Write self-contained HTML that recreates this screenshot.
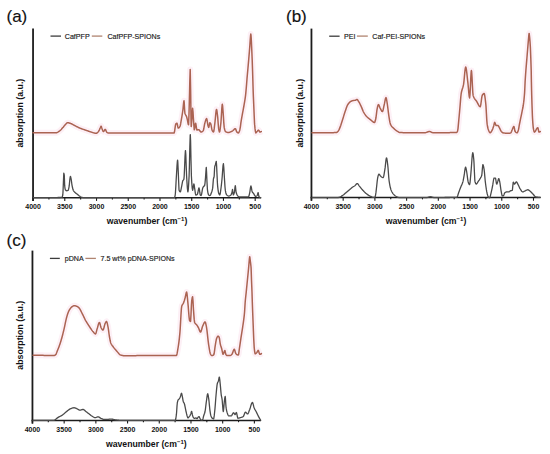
<!DOCTYPE html>
<html><head><meta charset="utf-8"><style>
html,body{margin:0;padding:0;background:#fff;width:550px;height:454px;overflow:hidden}
svg{display:block}
text{font-family:"Liberation Sans",sans-serif;fill:#111}
.tl{font-size:7px;font-weight:bold;text-anchor:middle}
.xl{font-size:8.7px;font-weight:bold;text-anchor:middle}
.yl{font-size:8.8px;font-weight:bold;text-anchor:middle}
.pl{font-size:17px;fill:#111;stroke:#111;stroke-width:0.15px}
.lg{font-size:7.1px;fill:#1a1a1a;stroke:#1a1a1a;stroke-width:0.15px}
.tb{fill:none;stroke:#4a4a4a;stroke-width:1.3;stroke-linejoin:round;stroke-linecap:round}
.halo{fill:none;stroke:#fdf0f6;stroke-width:6;stroke-linejoin:round;stroke-linecap:butt}
.tr{fill:none;stroke:#ab6352;stroke-width:1.5;stroke-linejoin:round;stroke-linecap:round}
</style></head><body>
<svg width="550" height="454" viewBox="0 0 550 454">
<polyline points="33.00,132.80 34.00,132.80 35.00,132.80 36.00,132.80 37.00,132.80 38.00,132.80 39.00,132.80 40.00,132.80 41.00,132.80 42.00,132.80 43.00,132.80 44.00,132.80 45.00,132.80 46.00,132.80 47.00,132.80 48.00,132.80 49.00,132.80 50.00,132.80 51.00,132.80 52.00,132.80 53.00,132.80 54.00,132.80 55.00,132.80 55.90,132.80 56.00,132.80 57.00,132.56 58.00,132.02 59.00,131.34 59.50,131.00 60.00,130.62 61.00,129.66 62.00,128.55 63.00,127.40 64.00,126.16 65.00,124.92 65.40,124.50 66.00,123.89 67.00,122.96 67.70,122.70 68.00,122.71 69.00,122.91 70.00,123.25 70.70,123.50 71.00,123.61 72.00,124.07 73.00,124.61 74.00,125.17 74.80,125.60 75.00,125.70 76.00,126.22 77.00,126.75 78.00,127.26 79.00,127.74 79.60,128.00 80.00,128.16 81.00,128.55 82.00,128.91 83.00,129.26 84.00,129.59 85.00,129.93 85.50,130.10 86.00,130.27 87.00,130.63 88.00,130.98 89.00,131.33 90.00,131.67 91.00,131.98 91.40,132.10 92.00,132.29 93.00,132.62 94.00,132.95 95.00,133.19 96.00,133.30 96.10,133.30 97.00,132.97 98.00,132.06 98.50,131.50 99.00,130.70 100.00,128.43 100.20,128.00 101.00,126.24 101.10,126.20 102.00,128.60 103.00,131.12 103.40,131.50 104.00,131.00 105.00,129.54 105.30,129.40 106.00,130.60 106.70,132.10 107.00,132.36 108.00,133.00 108.50,133.10 109.00,133.10 110.00,133.09 111.00,133.07 112.00,133.04 113.00,133.02 114.00,133.01 115.00,133.00 116.00,133.00 117.00,133.00 118.00,133.00 119.00,133.00 120.00,133.00 121.00,133.00 122.00,133.00 123.00,133.00 124.00,133.00 125.00,133.00 126.00,133.00 127.00,133.00 128.00,133.00 129.00,133.00 130.00,133.00 131.00,133.00 132.00,133.00 133.00,133.00 134.00,133.00 135.00,133.00 136.00,133.00 137.00,133.00 138.00,133.00 139.00,133.00 140.00,133.00 141.00,133.00 142.00,133.00 143.00,133.00 144.00,133.00 145.00,133.00 146.00,133.00 147.00,133.00 148.00,133.00 149.00,133.00 150.00,133.00 151.00,133.00 152.00,133.00 153.00,133.00 154.00,133.00 155.00,133.00 156.00,133.00 157.00,133.00 158.00,133.00 159.00,133.00 160.00,133.00 161.00,133.00 162.00,133.00 163.00,133.00 164.00,133.00 165.00,133.00 166.00,133.00 167.00,133.00 168.00,133.00 169.00,133.00 170.00,133.00 171.00,133.00 172.00,133.00 173.00,133.00 174.00,133.00 174.10,133.00 175.00,128.38 175.80,124.00 176.00,123.77 176.90,123.20 177.00,123.27 178.00,127.52 178.30,128.10 179.00,127.73 179.90,126.50 180.00,126.30 181.00,121.74 181.60,118.20 182.00,115.88 182.90,109.90 183.00,109.09 184.00,100.80 184.90,113.20 185.00,113.53 185.70,114.90 186.00,115.46 186.50,116.50 187.00,118.24 187.40,119.90 188.00,123.19 188.50,124.80 189.00,114.03 189.50,95.00 190.00,73.13 190.20,69.40 190.70,95.00 191.00,118.12 191.20,126.50 192.00,116.50 192.60,108.30 193.00,111.89 193.50,119.90 194.00,127.56 194.30,129.80 195.00,126.12 195.60,123.20 196.00,124.74 196.90,130.00 197.00,130.00 198.00,129.80 198.70,129.70 199.00,129.81 200.00,131.07 201.00,132.00 202.00,131.72 203.00,130.93 203.30,130.60 204.00,127.56 204.70,123.70 205.00,122.61 206.00,119.35 206.60,118.60 207.00,119.72 208.00,125.60 208.70,127.40 209.00,126.56 209.80,122.80 210.00,122.86 210.70,123.70 211.00,124.66 212.00,129.94 212.10,130.20 213.00,131.71 213.50,132.00 214.00,130.16 214.90,122.80 215.00,122.00 216.00,111.72 216.50,109.40 217.00,111.28 217.70,117.20 218.00,120.82 218.60,128.30 219.00,130.60 219.50,132.00 220.00,130.33 220.90,122.80 221.00,121.77 222.00,106.04 222.30,104.30 223.00,110.92 223.20,113.50 224.00,125.68 224.20,127.40 225.00,130.57 225.60,131.60 226.00,131.84 227.00,132.29 228.00,132.49 228.30,132.50 229.00,132.42 230.00,132.08 231.00,131.64 231.10,131.60 232.00,131.16 233.00,130.51 233.40,130.20 234.00,129.49 234.50,129.00 235.00,128.78 235.40,128.70 236.00,129.86 236.80,132.00 237.00,132.18 238.00,132.83 238.40,132.90 239.00,132.20 239.50,131.00 240.00,128.97 240.30,127.30 240.90,122.70 241.00,122.04 242.00,116.24 242.50,113.50 243.00,110.78 244.00,105.37 244.20,104.20 245.00,99.37 245.60,95.00 246.00,91.03 246.40,86.40 247.00,78.81 247.10,77.60 247.90,68.80 248.00,67.68 248.80,58.50 249.00,56.13 249.80,46.20 250.00,43.26 250.30,39.00 250.80,34.10 251.00,35.39 251.20,38.00 251.60,46.20 252.00,55.06 252.20,60.00 252.70,75.00 253.00,85.52 253.20,92.00 253.70,104.00 254.00,111.15 254.10,113.50 254.50,122.70 255.00,128.43 255.10,129.20 255.80,132.90 256.00,132.84 257.00,131.61 257.10,131.50 258.00,130.39 258.50,130.10 259.00,130.65 259.90,132.00 260.00,132.00 261.00,131.76 261.30,131.50" class="halo"/>
<polyline points="312.00,132.70 313.00,132.70 314.00,132.70 315.00,132.70 316.00,132.70 317.00,132.70 318.00,132.70 319.00,132.70 320.00,132.69 321.00,132.69 322.00,132.69 323.00,132.69 324.00,132.69 325.00,132.68 326.00,132.68 327.00,132.67 328.00,132.67 329.00,132.66 330.00,132.66 331.00,132.65 332.00,132.64 333.00,132.63 334.00,132.62 335.00,132.62 336.00,132.60 336.40,132.60 337.00,132.38 338.00,131.36 338.30,131.00 339.00,129.81 340.00,127.40 340.20,126.90 341.00,124.68 342.00,121.53 342.70,119.30 343.00,118.35 344.00,115.06 345.00,111.88 345.30,111.00 346.00,108.97 347.00,106.23 347.80,104.60 348.00,104.29 349.00,102.96 350.00,101.98 350.40,101.70 351.00,101.35 352.00,100.88 352.90,100.60 353.00,100.58 354.00,100.43 355.00,100.30 355.50,100.20 356.00,99.96 357.00,99.50 358.00,100.52 358.60,101.50 359.00,102.14 360.00,104.00 361.00,106.08 361.20,106.50 362.00,108.38 363.00,110.85 363.70,112.30 364.00,112.81 365.00,114.36 366.00,115.68 366.90,116.70 367.00,116.80 368.00,117.76 369.00,118.60 370.00,119.37 370.70,119.90 371.00,120.14 372.00,121.03 373.00,121.88 374.00,122.42 374.50,122.50 375.00,121.72 375.80,118.60 376.00,117.51 377.00,109.63 377.10,109.10 378.00,105.22 378.40,104.60 379.00,105.30 380.00,107.87 380.30,108.50 381.00,109.84 382.00,111.41 382.40,111.60 383.00,110.33 384.00,105.71 384.10,105.30 385.00,100.79 386.00,97.60 387.00,102.08 387.30,104.00 388.00,109.28 388.80,115.50 389.00,116.77 390.00,122.66 390.50,124.40 391.00,125.34 392.00,126.68 393.00,127.64 393.60,128.20 394.00,128.59 395.00,129.52 396.00,130.36 397.00,131.09 397.50,131.40 398.00,131.71 399.00,132.32 400.00,132.60 401.00,132.61 402.00,132.62 403.00,132.63 404.00,132.64 405.00,132.65 406.00,132.65 407.00,132.66 408.00,132.66 409.00,132.67 410.00,132.67 411.00,132.68 412.00,132.68 413.00,132.69 414.00,132.69 415.00,132.69 416.00,132.69 417.00,132.69 418.00,132.70 419.00,132.70 420.00,132.70 421.00,132.70 422.00,132.70 423.00,132.70 424.00,132.70 425.00,132.70 426.00,132.54 427.00,132.18 428.00,131.79 429.00,131.53 429.40,131.50 430.00,131.59 431.00,132.00 432.00,132.47 433.00,132.70 434.00,132.70 435.00,132.70 436.00,132.70 437.00,132.70 438.00,132.70 439.00,132.70 440.00,132.69 441.00,132.69 442.00,132.69 443.00,132.68 444.00,132.68 445.00,132.67 446.00,132.66 447.00,132.65 448.00,132.64 449.00,132.63 450.00,132.62 451.00,132.61 452.00,132.59 453.00,132.58 454.00,132.56 455.00,132.54 456.00,132.51 456.60,132.50 457.00,132.21 457.60,131.00 458.00,128.59 458.80,120.00 459.00,117.95 459.90,108.00 460.00,106.86 461.00,94.99 461.20,93.50 462.00,89.96 463.00,86.85 463.50,84.70 464.00,80.82 465.00,70.45 465.70,67.00 466.00,67.52 467.00,74.59 467.90,82.90 468.00,83.76 469.00,94.71 469.60,97.90 470.00,94.45 471.00,74.05 471.40,70.60 472.00,77.16 473.00,94.65 473.10,95.20 474.00,97.62 475.00,99.23 476.00,100.43 476.70,101.40 477.00,101.91 478.00,103.88 479.00,105.69 480.00,106.67 480.20,106.70 481.00,103.26 482.00,96.19 482.30,95.20 483.00,94.21 484.00,93.51 484.10,93.50 485.00,97.20 485.80,104.00 486.00,106.36 487.00,122.94 487.10,123.80 488.00,128.48 488.50,130.00 489.00,131.19 490.00,132.74 490.20,132.80 491.00,132.18 491.90,130.70 492.00,130.52 493.00,128.03 493.70,125.90 494.00,124.69 494.70,122.40 495.00,122.77 496.00,125.45 496.10,125.50 497.00,125.50 497.80,125.50 498.00,125.56 499.00,127.07 499.50,128.00 500.00,128.96 501.00,130.98 501.30,131.40 502.00,132.15 503.00,132.80 504.00,133.01 505.00,133.15 506.00,133.20 506.10,133.20 507.00,133.20 508.00,133.20 509.00,133.20 509.60,133.20 510.00,133.14 511.00,132.60 512.00,130.30 513.00,127.77 513.90,126.50 514.00,126.59 515.00,131.30 515.10,131.50 516.00,132.41 517.00,132.80 518.00,131.14 518.30,130.30 519.00,126.88 519.50,124.00 520.00,121.54 520.80,117.70 521.00,116.74 522.00,111.90 522.10,111.40 523.00,106.94 523.30,105.10 524.00,99.56 524.60,92.60 525.00,84.00 525.10,82.00 525.90,70.30 526.00,68.99 526.90,58.20 527.00,56.99 527.90,46.10 528.00,44.91 528.60,38.00 529.00,33.72 529.10,33.40 529.70,38.00 530.00,41.47 530.30,46.10 530.80,58.20 531.00,63.53 531.20,70.30 531.40,82.00 531.70,95.00 532.00,105.00 532.50,117.70 533.00,125.28 533.30,128.00 534.00,131.42 534.40,132.10 535.00,131.67 535.50,131.00 536.00,130.00 536.50,129.00 537.00,128.31 537.80,127.70 538.00,128.03 539.00,132.10 540.00,131.83 540.30,131.50" class="halo"/>
<polyline points="33.00,355.20 34.00,355.23 35.00,355.25 36.00,355.27 37.00,355.29 38.00,355.31 39.00,355.33 40.00,355.34 41.00,355.35 42.00,355.36 43.00,355.37 44.00,355.38 45.00,355.38 46.00,355.39 47.00,355.39 48.00,355.39 49.00,355.40 50.00,355.40 51.00,355.40 52.00,355.40 53.00,355.40 54.00,355.40 54.50,355.40 55.00,355.25 55.60,354.80 56.00,354.23 57.00,351.67 57.30,350.90 58.00,349.21 59.00,346.67 59.50,345.30 60.00,343.84 61.00,340.68 62.00,337.22 62.20,336.50 63.00,333.40 64.00,329.19 64.30,327.90 65.00,324.66 66.00,319.92 66.50,317.90 67.00,316.11 68.00,312.94 68.60,311.50 69.00,310.71 70.00,308.97 71.00,307.66 71.50,307.20 72.00,306.81 73.00,306.12 74.00,305.73 74.30,305.70 75.00,305.76 76.00,306.03 77.00,306.42 77.20,306.50 78.00,306.97 79.00,307.88 79.30,308.20 80.00,309.19 81.00,311.12 82.00,313.21 82.20,313.60 83.00,315.20 84.00,317.27 85.00,319.30 85.80,320.80 86.00,321.15 87.00,322.82 88.00,324.39 89.00,325.90 89.40,326.50 90.00,327.41 91.00,328.95 92.00,330.39 92.90,331.50 93.00,331.61 94.00,332.83 95.00,333.75 95.50,333.90 96.00,333.10 97.00,329.26 97.20,328.60 98.00,325.81 99.00,322.86 99.40,322.50 100.00,323.67 101.00,327.44 101.20,327.90 102.00,329.25 103.00,330.10 104.00,327.57 105.00,323.82 105.10,323.60 106.00,321.89 106.50,321.50 107.00,322.32 108.00,326.81 108.10,327.30 109.00,333.76 109.40,336.50 110.00,339.79 110.80,343.00 111.00,343.47 112.00,345.23 113.00,346.56 113.10,346.70 114.00,347.91 115.00,349.14 116.00,350.30 116.90,351.30 117.00,351.41 118.00,352.61 119.00,353.80 120.00,354.70 120.60,355.00 121.00,355.12 122.00,355.38 123.00,355.59 124.00,355.74 125.00,355.80 125.20,355.80 126.00,355.80 127.00,355.79 128.00,355.79 129.00,355.77 130.00,355.76 131.00,355.74 132.00,355.73 133.00,355.71 134.00,355.68 135.00,355.66 136.00,355.64 137.00,355.61 138.00,355.59 139.00,355.57 140.00,355.54 141.00,355.52 142.00,355.50 143.00,355.48 144.00,355.46 145.00,355.44 146.00,355.43 147.00,355.42 148.00,355.41 149.00,355.40 150.00,355.40 151.00,355.40 152.00,355.40 153.00,355.41 154.00,355.41 155.00,355.42 156.00,355.43 157.00,355.43 158.00,355.44 159.00,355.45 160.00,355.46 161.00,355.48 162.00,355.49 163.00,355.50 164.00,355.51 165.00,355.52 166.00,355.53 167.00,355.54 168.00,355.55 169.00,355.56 170.00,355.57 171.00,355.58 172.00,355.59 173.00,355.59 174.00,355.60 175.00,355.60 176.00,355.60 176.30,355.60 177.00,353.92 178.00,348.21 178.20,347.00 179.00,341.36 179.90,332.90 180.00,331.74 181.00,314.44 181.70,306.40 182.00,305.53 183.00,303.84 183.50,302.90 184.00,301.56 185.00,298.30 185.20,297.60 186.00,293.69 186.60,292.00 187.00,293.68 187.90,302.90 188.00,303.88 189.00,316.31 189.60,320.50 190.00,321.08 190.50,321.40 191.00,314.66 191.70,301.10 192.00,298.97 192.60,296.70 193.00,300.98 193.50,310.00 194.00,316.91 194.60,322.30 195.00,323.10 196.00,324.17 196.70,324.90 197.00,325.33 198.00,326.90 198.40,327.60 199.00,329.02 200.00,331.53 200.50,332.00 201.00,331.43 202.00,328.24 202.80,325.80 203.00,325.37 204.00,323.15 205.00,321.91 205.10,321.90 206.00,324.68 206.40,326.70 207.00,330.69 208.00,339.63 208.70,345.00 209.00,346.84 210.00,352.44 210.60,354.30 211.00,354.90 211.90,355.60 212.00,355.60 213.00,355.29 213.80,354.70 214.00,354.22 215.00,347.21 215.20,345.90 216.00,341.06 216.60,338.50 217.00,337.53 218.00,336.20 219.00,336.96 219.10,337.10 220.00,342.37 220.30,344.10 221.00,346.51 221.70,348.70 222.00,350.03 223.00,354.24 223.10,354.30 224.00,352.45 224.90,350.60 225.00,350.71 225.80,354.30 226.00,354.61 227.00,355.57 227.20,355.60 228.00,355.60 229.00,355.60 230.00,355.60 231.00,355.15 231.90,354.30 232.00,354.18 233.00,351.74 234.00,349.39 234.30,349.20 235.00,350.98 235.80,353.60 236.00,353.82 237.00,354.69 237.70,354.90 238.00,354.90 238.40,354.90 239.00,351.70 239.40,348.50 240.00,344.44 240.90,338.30 241.00,337.65 242.00,331.41 242.90,325.50 243.00,324.80 244.00,317.57 244.50,312.80 245.00,304.93 245.20,302.00 246.00,294.19 246.20,292.30 247.00,284.25 247.40,280.20 248.00,274.29 248.60,268.10 249.00,263.23 249.20,261.00 249.70,256.70 250.00,258.26 250.30,261.00 251.00,266.76 251.10,268.10 251.50,280.20 252.00,292.30 252.30,302.00 252.70,312.80 253.00,320.45 253.20,325.50 253.70,338.30 254.00,344.26 254.30,348.50 255.00,353.44 255.20,353.80 256.00,353.38 256.90,352.40 257.00,352.27 258.00,350.50 258.20,350.40 259.00,352.35 259.80,354.30 260.00,354.30 261.00,354.00 261.40,353.60" class="halo"/>
<line x1="33.05" y1="28.6" x2="33.05" y2="200.89999999999998" stroke="#1c1c1c" stroke-width="1.8"/>
<line x1="32.15" y1="197.7" x2="261.2" y2="197.7" stroke="#1c1c1c" stroke-width="1.5"/>
<line x1="33.05" y1="197.7" x2="33.05" y2="200.89999999999998" stroke="#1c1c1c" stroke-width="1.1"/>
<line x1="48.92" y1="197.7" x2="48.92" y2="199.5" stroke="#1c1c1c" stroke-width="1.1"/>
<line x1="64.78" y1="197.7" x2="64.78" y2="200.89999999999998" stroke="#1c1c1c" stroke-width="1.1"/>
<line x1="80.65" y1="197.7" x2="80.65" y2="199.5" stroke="#1c1c1c" stroke-width="1.1"/>
<line x1="96.52" y1="197.7" x2="96.52" y2="200.89999999999998" stroke="#1c1c1c" stroke-width="1.1"/>
<line x1="112.39" y1="197.7" x2="112.39" y2="199.5" stroke="#1c1c1c" stroke-width="1.1"/>
<line x1="128.25" y1="197.7" x2="128.25" y2="200.89999999999998" stroke="#1c1c1c" stroke-width="1.1"/>
<line x1="144.12" y1="197.7" x2="144.12" y2="199.5" stroke="#1c1c1c" stroke-width="1.1"/>
<line x1="159.99" y1="197.7" x2="159.99" y2="200.89999999999998" stroke="#1c1c1c" stroke-width="1.1"/>
<line x1="175.86" y1="197.7" x2="175.86" y2="199.5" stroke="#1c1c1c" stroke-width="1.1"/>
<line x1="191.72" y1="197.7" x2="191.72" y2="200.89999999999998" stroke="#1c1c1c" stroke-width="1.1"/>
<line x1="207.59" y1="197.7" x2="207.59" y2="199.5" stroke="#1c1c1c" stroke-width="1.1"/>
<line x1="223.46" y1="197.7" x2="223.46" y2="200.89999999999998" stroke="#1c1c1c" stroke-width="1.1"/>
<line x1="239.33" y1="197.7" x2="239.33" y2="199.5" stroke="#1c1c1c" stroke-width="1.1"/>
<line x1="255.19" y1="197.7" x2="255.19" y2="200.89999999999998" stroke="#1c1c1c" stroke-width="1.1"/>
<text x="33.05" y="208.8" class="tl">4000</text>
<text x="64.78" y="208.8" class="tl">3500</text>
<text x="96.52" y="208.8" class="tl">3000</text>
<text x="128.25" y="208.8" class="tl">2500</text>
<text x="159.99" y="208.8" class="tl">2000</text>
<text x="191.72" y="208.8" class="tl">1500</text>
<text x="223.46" y="208.8" class="tl">1000</text>
<text x="255.19" y="208.8" class="tl">500</text>
<text x="147" y="224.1" class="xl">wavenumber (cm<tspan dy="-3" font-size="6">&#8722;1</tspan><tspan dy="3">)</tspan></text>
<text transform="translate(23.3,113.15) rotate(-90)" class="yl">absorption (a.u.)</text>
<text x="6.5" y="22" class="pl">(a)</text>
<line x1="50.5" y1="36.1" x2="61" y2="36.1" stroke="#3c3c3c" stroke-width="1.3"/>
<text x="64.8" y="38.5" class="lg">CafPFP</text>
<line x1="91.8" y1="36.1" x2="102.3" y2="36.1" stroke="#b08470" stroke-width="1.3"/>
<text x="107.4" y="38.5" class="lg">CafPFP-SPIONs</text>
<polyline points="33.00,197.65 33.40,197.65 33.80,197.65 34.20,197.65 34.60,197.65 35.00,197.65 35.40,197.65 35.80,197.65 36.20,197.65 36.60,197.65 37.00,197.65 37.40,197.65 37.80,197.65 38.20,197.65 38.60,197.65 39.00,197.65 39.40,197.65 39.80,197.65 40.20,197.65 40.60,197.65 41.00,197.64 41.40,197.64 41.80,197.64 42.20,197.64 42.60,197.64 43.00,197.64 43.40,197.64 43.80,197.64 44.20,197.64 44.60,197.64 45.00,197.63 45.40,197.63 45.80,197.63 46.20,197.63 46.60,197.63 47.00,197.62 47.40,197.62 47.80,197.62 48.20,197.62 48.60,197.62 49.00,197.61 49.40,197.61 49.80,197.61 50.20,197.60 50.60,197.60 51.00,197.60 51.40,197.60 51.80,197.59 52.20,197.59 52.60,197.58 53.00,197.58 53.40,197.58 53.80,197.57 54.20,197.57 54.60,197.56 55.00,197.56 55.40,197.55 55.80,197.55 56.20,197.54 56.60,197.54 57.00,197.53 57.40,197.53 57.80,197.52 58.20,197.52 58.60,197.51 59.00,197.50 59.40,197.50 59.80,197.49 60.20,197.48 60.60,197.47 61.00,197.47 61.40,197.46 61.80,197.45 61.90,197.45 62.20,197.11 62.60,195.76 62.80,194.75 63.00,192.02 63.40,182.35 63.40,182.35 63.80,173.15 63.80,173.15 64.20,174.63 64.30,175.35 64.60,183.89 64.70,185.95 65.00,188.35 65.40,189.85 65.40,189.85 65.80,190.31 66.20,190.61 66.60,190.74 66.70,190.75 67.00,190.73 67.40,190.65 67.80,190.50 68.10,190.35 68.20,190.25 68.60,189.11 69.00,187.12 69.20,185.95 69.40,184.13 69.80,179.75 69.80,179.75 70.20,176.99 70.40,176.45 70.60,176.74 71.00,178.39 71.10,178.85 71.40,180.71 71.80,183.79 72.00,185.05 72.20,186.08 72.60,188.01 73.00,189.57 73.30,190.35 73.40,190.54 73.80,191.17 74.20,191.67 74.60,192.08 75.00,192.46 75.10,192.55 75.40,192.82 75.80,193.15 76.20,193.44 76.60,193.73 77.00,194.02 77.30,194.25 77.40,194.33 77.80,194.66 78.20,195.01 78.60,195.35 79.00,195.68 79.40,195.98 79.50,196.05 79.80,196.26 80.20,196.55 80.60,196.82 81.00,197.04 81.30,197.15 81.40,197.18 81.80,197.29 82.20,197.40 82.60,197.49 83.00,197.56 83.40,197.62 83.80,197.65 84.00,197.65 84.20,197.65 84.60,197.65 85.00,197.65 85.40,197.65 85.80,197.65 86.20,197.65 86.60,197.65 87.00,197.65 87.40,197.65 87.80,197.65 88.20,197.65 88.60,197.65 89.00,197.65 89.40,197.65 89.80,197.65 90.20,197.65 90.60,197.65 91.00,197.65 91.40,197.65 91.80,197.65 92.20,197.65 92.60,197.65 93.00,197.65 93.40,197.65 93.80,197.65 94.20,197.65 94.60,197.65 95.00,197.65 95.40,197.65 95.80,197.65 96.20,197.65 96.60,197.65 97.00,197.65 97.40,197.65 97.80,197.65 98.20,197.65 98.60,197.65 99.00,197.65 99.40,197.65 99.80,197.65 100.20,197.65 100.60,197.65 101.00,197.65 101.40,197.65 101.80,197.65 102.20,197.65 102.60,197.65 103.00,197.65 103.40,197.65 103.80,197.65 104.20,197.65 104.60,197.65 105.00,197.65 105.40,197.65 105.80,197.65 106.20,197.65 106.60,197.65 107.00,197.65 107.40,197.65 107.80,197.65 108.20,197.65 108.60,197.65 109.00,197.65 109.40,197.65 109.80,197.65 110.20,197.65 110.60,197.65 111.00,197.65 111.40,197.65 111.80,197.65 112.20,197.65 112.60,197.65 113.00,197.65 113.40,197.65 113.80,197.65 114.20,197.65 114.60,197.65 115.00,197.65 115.40,197.65 115.80,197.65 116.20,197.65 116.60,197.65 117.00,197.64 117.40,197.64 117.80,197.64 118.20,197.64 118.60,197.64 119.00,197.64 119.40,197.64 119.80,197.64 120.20,197.64 120.60,197.64 121.00,197.64 121.40,197.64 121.80,197.64 122.20,197.64 122.60,197.64 123.00,197.64 123.40,197.64 123.80,197.64 124.20,197.64 124.60,197.64 125.00,197.64 125.40,197.64 125.80,197.64 126.20,197.64 126.60,197.64 127.00,197.64 127.40,197.64 127.80,197.64 128.20,197.64 128.60,197.64 129.00,197.64 129.40,197.64 129.80,197.64 130.20,197.64 130.60,197.64 131.00,197.64 131.40,197.64 131.80,197.63 132.20,197.63 132.60,197.63 133.00,197.63 133.40,197.63 133.80,197.63 134.20,197.63 134.60,197.63 135.00,197.63 135.40,197.63 135.80,197.63 136.20,197.63 136.60,197.63 137.00,197.63 137.40,197.63 137.80,197.63 138.20,197.63 138.60,197.63 139.00,197.63 139.40,197.63 139.80,197.63 140.20,197.63 140.60,197.63 141.00,197.62 141.40,197.62 141.80,197.62 142.20,197.62 142.60,197.62 143.00,197.62 143.40,197.62 143.80,197.62 144.20,197.62 144.60,197.62 145.00,197.62 145.40,197.62 145.80,197.62 146.20,197.62 146.60,197.62 147.00,197.62 147.40,197.62 147.80,197.61 148.20,197.61 148.60,197.61 149.00,197.61 149.40,197.61 149.80,197.61 150.20,197.61 150.60,197.61 151.00,197.61 151.40,197.61 151.80,197.61 152.20,197.61 152.60,197.61 153.00,197.61 153.40,197.60 153.80,197.60 154.20,197.60 154.60,197.60 155.00,197.60 155.40,197.60 155.80,197.60 156.20,197.60 156.60,197.60 157.00,197.60 157.40,197.60 157.80,197.60 158.20,197.59 158.60,197.59 159.00,197.59 159.40,197.59 159.80,197.59 160.20,197.59 160.60,197.59 161.00,197.59 161.40,197.59 161.80,197.59 162.20,197.59 162.60,197.58 163.00,197.58 163.40,197.58 163.80,197.58 164.20,197.58 164.60,197.58 165.00,197.58 165.40,197.58 165.80,197.58 166.20,197.57 166.60,197.57 167.00,197.57 167.40,197.57 167.80,197.57 168.20,197.57 168.60,197.57 169.00,197.57 169.40,197.57 169.80,197.56 170.20,197.56 170.60,197.56 171.00,197.56 171.40,197.56 171.80,197.56 172.20,197.56 172.60,197.56 173.00,197.55 173.40,197.55 173.80,197.55 174.20,197.55 174.50,197.55 174.60,197.48 175.00,196.11 175.20,195.05 175.40,193.27 175.80,186.84 176.20,179.22 176.40,175.95 176.60,172.76 177.00,165.83 177.40,160.83 177.60,160.05 177.80,161.76 178.20,170.59 178.30,172.75 178.60,180.42 179.00,189.51 179.10,190.25 179.40,190.95 179.80,191.57 180.20,191.84 180.30,191.85 180.60,191.35 181.00,189.60 181.40,187.51 181.50,187.05 181.80,185.54 182.20,183.27 182.60,181.35 182.80,180.75 183.00,180.39 183.40,179.95 183.80,179.38 183.90,179.15 184.20,176.00 184.60,166.95 185.00,156.91 185.40,150.86 185.50,150.55 185.80,154.23 186.20,165.70 186.60,175.95 186.60,175.95 187.00,182.63 187.40,188.51 187.80,191.70 187.90,191.85 188.20,190.44 188.60,185.19 189.00,177.87 189.10,175.95 189.40,166.27 189.80,147.86 190.20,135.32 190.30,134.65 190.60,141.11 191.00,160.59 191.40,175.95 191.40,175.95 191.80,182.90 192.20,188.16 192.60,190.25 192.60,190.25 193.00,188.83 193.40,186.03 193.80,184.06 193.90,183.95 194.20,185.03 194.60,188.00 194.70,188.65 195.00,190.75 195.40,193.67 195.80,195.05 195.80,195.05 196.20,194.99 196.60,194.83 197.00,194.58 197.40,194.25 197.40,194.25 197.80,193.05 198.20,190.87 198.60,188.78 199.00,187.85 199.00,187.85 199.40,189.39 199.80,192.47 200.20,194.84 200.30,195.05 200.60,195.33 201.00,195.54 201.10,195.55 201.40,195.01 201.80,193.09 202.20,190.61 202.60,188.49 202.80,187.85 203.00,187.43 203.40,186.75 203.80,186.25 203.90,186.15 204.20,185.95 204.60,185.65 204.60,185.65 205.00,183.27 205.40,178.93 205.50,177.85 205.80,173.34 206.20,167.78 206.30,167.45 206.60,172.82 206.80,177.85 207.00,181.91 207.40,189.06 207.50,190.05 207.80,192.07 208.20,194.03 208.60,194.95 208.60,194.95 209.00,195.25 209.40,195.45 209.80,195.55 209.90,195.55 210.20,195.39 210.60,194.79 211.00,193.87 211.40,192.79 211.60,192.25 211.80,191.70 212.20,190.36 212.60,188.45 212.70,187.85 213.00,184.15 213.40,179.05 213.40,179.05 213.80,177.82 214.10,176.75 214.20,175.70 214.60,167.88 214.70,166.85 215.00,165.71 215.40,164.65 215.40,164.65 215.80,162.86 216.20,161.43 216.30,161.35 216.60,165.45 216.90,172.35 217.00,174.33 217.40,182.69 217.60,185.65 217.80,187.67 218.20,190.98 218.60,193.06 218.70,193.35 219.00,194.02 219.40,194.69 219.80,194.95 219.80,194.95 220.20,193.78 220.60,191.12 220.90,188.95 221.00,188.24 221.40,184.89 221.80,181.03 222.00,179.05 222.20,176.74 222.60,171.01 223.00,165.82 223.40,163.55 223.40,163.55 223.80,167.66 224.20,174.55 224.20,174.55 224.60,180.88 225.00,187.06 225.30,190.05 225.40,190.66 225.80,192.72 226.20,194.08 226.40,194.45 226.60,194.70 227.00,195.14 227.40,195.51 227.80,195.78 228.20,195.97 228.60,196.05 228.70,196.05 229.00,196.03 229.40,195.92 229.80,195.75 230.20,195.51 230.60,195.21 230.90,194.95 231.00,194.84 231.40,194.10 231.80,192.94 232.00,192.25 232.20,191.01 232.50,189.45 232.60,189.69 233.00,193.21 233.30,194.95 233.40,194.92 233.80,194.25 234.20,192.99 234.40,192.25 234.60,190.96 235.00,187.11 235.30,185.65 235.40,185.89 235.80,189.71 236.10,192.25 236.20,192.62 236.60,193.86 237.00,194.77 237.40,195.42 237.50,195.55 237.80,195.93 238.20,196.39 238.60,196.72 239.00,196.85 239.00,196.85 239.40,196.85 239.80,196.85 240.20,196.85 240.60,196.85 241.00,196.85 241.40,196.85 241.80,196.85 242.20,196.85 242.60,196.85 243.00,196.85 243.40,196.85 243.80,196.85 244.20,196.85 244.60,196.85 245.00,196.85 245.40,196.85 245.80,196.85 246.20,196.85 246.60,196.85 247.00,196.85 247.40,196.85 247.80,196.85 248.20,196.85 248.50,196.85 248.60,196.81 249.00,195.88 249.40,194.20 249.80,192.35 249.80,192.35 250.20,189.72 250.60,186.86 250.90,185.95 251.00,186.04 251.40,187.68 251.80,190.17 252.20,191.85 252.20,191.85 252.60,192.43 253.00,192.83 253.40,193.23 253.50,193.35 253.80,193.81 254.20,194.58 254.60,195.36 255.00,196.00 255.40,196.33 255.50,196.35 255.80,196.32 256.20,196.19 256.60,195.96 257.00,195.64 257.30,195.35 257.40,195.15 257.80,193.36 258.10,192.55 258.20,192.69 258.60,194.95 259.00,196.85 259.00,196.85 259.40,197.15 259.80,197.37 260.20,197.51 260.60,197.55" class="tb"/>
<polyline points="33.00,132.80 33.40,132.80 33.80,132.80 34.20,132.80 34.60,132.80 35.00,132.80 35.40,132.80 35.80,132.80 36.20,132.80 36.60,132.80 37.00,132.80 37.40,132.80 37.80,132.80 38.20,132.80 38.60,132.80 39.00,132.80 39.40,132.80 39.80,132.80 40.20,132.80 40.60,132.80 41.00,132.80 41.40,132.80 41.80,132.80 42.20,132.80 42.60,132.80 43.00,132.80 43.40,132.80 43.80,132.80 44.20,132.80 44.60,132.80 45.00,132.80 45.40,132.80 45.80,132.80 46.20,132.80 46.60,132.80 47.00,132.80 47.40,132.80 47.80,132.80 48.20,132.80 48.60,132.80 49.00,132.80 49.40,132.80 49.80,132.80 50.20,132.80 50.60,132.80 51.00,132.80 51.40,132.80 51.80,132.80 52.20,132.80 52.60,132.80 53.00,132.80 53.40,132.80 53.80,132.80 54.20,132.80 54.60,132.80 55.00,132.80 55.40,132.80 55.80,132.80 55.90,132.80 56.20,132.78 56.60,132.70 57.00,132.56 57.40,132.37 57.80,132.14 58.20,131.89 58.60,131.62 59.00,131.34 59.40,131.07 59.50,131.00 59.80,130.78 60.20,130.45 60.60,130.07 61.00,129.66 61.40,129.23 61.80,128.78 62.20,128.31 62.60,127.85 63.00,127.40 63.00,127.40 63.40,126.93 63.80,126.42 64.20,125.90 64.60,125.39 65.00,124.92 65.40,124.50 65.40,124.50 65.80,124.10 66.20,123.68 66.60,123.28 67.00,122.96 67.40,122.75 67.70,122.70 67.80,122.70 68.20,122.74 68.60,122.81 69.00,122.91 69.40,123.04 69.80,123.18 70.20,123.32 70.60,123.47 70.70,123.50 71.00,123.61 71.40,123.78 71.80,123.97 72.20,124.17 72.60,124.38 73.00,124.61 73.40,124.83 73.80,125.06 74.20,125.28 74.60,125.50 74.80,125.60 75.00,125.70 75.40,125.91 75.80,126.12 76.20,126.33 76.60,126.54 77.00,126.75 77.40,126.96 77.80,127.16 78.20,127.36 78.60,127.55 79.00,127.74 79.40,127.92 79.60,128.00 79.80,128.08 80.20,128.24 80.60,128.40 81.00,128.55 81.40,128.70 81.80,128.84 82.20,128.98 82.60,129.12 83.00,129.26 83.40,129.39 83.80,129.52 84.20,129.66 84.60,129.79 85.00,129.93 85.40,130.07 85.50,130.10 85.80,130.20 86.20,130.35 86.60,130.49 87.00,130.63 87.40,130.77 87.80,130.91 88.20,131.05 88.60,131.19 89.00,131.33 89.40,131.47 89.80,131.60 90.20,131.73 90.60,131.86 91.00,131.98 91.40,132.10 91.40,132.10 91.80,132.22 92.20,132.35 92.60,132.49 93.00,132.62 93.40,132.76 93.80,132.89 94.20,133.00 94.60,133.11 95.00,133.19 95.40,133.25 95.80,133.29 96.10,133.30 96.20,133.30 96.60,133.19 97.00,132.97 97.40,132.65 97.80,132.27 98.20,131.84 98.50,131.50 98.60,131.38 99.00,130.70 99.40,129.82 99.80,128.88 100.20,128.00 100.20,128.00 100.60,127.00 101.00,126.24 101.10,126.20 101.40,126.67 101.80,128.01 102.00,128.60 102.20,129.11 102.60,130.20 103.00,131.12 103.40,131.50 103.40,131.50 103.80,131.26 104.20,130.70 104.60,130.05 105.00,129.54 105.30,129.40 105.40,129.43 105.80,130.09 106.20,131.13 106.60,131.98 106.70,132.10 107.00,132.36 107.40,132.67 107.80,132.91 108.20,133.06 108.50,133.10 108.60,133.10 109.00,133.10 109.40,133.09 109.80,133.09 110.20,133.08 110.60,133.08 111.00,133.07 111.40,133.06 111.80,133.05 112.20,133.04 112.60,133.03 113.00,133.02 113.40,133.02 113.80,133.01 114.20,133.00 114.60,133.00 115.00,133.00 115.00,133.00 115.40,133.00 115.80,133.00 116.20,133.00 116.60,133.00 117.00,133.00 117.40,133.00 117.80,133.00 118.20,133.00 118.60,133.00 119.00,133.00 119.40,133.00 119.80,133.00 120.20,133.00 120.60,133.00 121.00,133.00 121.40,133.00 121.80,133.00 122.20,133.00 122.60,133.00 123.00,133.00 123.40,133.00 123.80,133.00 124.20,133.00 124.60,133.00 125.00,133.00 125.40,133.00 125.80,133.00 126.20,133.00 126.60,133.00 127.00,133.00 127.40,133.00 127.80,133.00 128.20,133.00 128.60,133.00 129.00,133.00 129.40,133.00 129.80,133.00 130.20,133.00 130.60,133.00 131.00,133.00 131.40,133.00 131.80,133.00 132.20,133.00 132.60,133.00 133.00,133.00 133.40,133.00 133.80,133.00 134.20,133.00 134.60,133.00 135.00,133.00 135.40,133.00 135.80,133.00 136.20,133.00 136.60,133.00 137.00,133.00 137.40,133.00 137.80,133.00 138.20,133.00 138.60,133.00 139.00,133.00 139.40,133.00 139.80,133.00 140.20,133.00 140.60,133.00 141.00,133.00 141.40,133.00 141.80,133.00 142.20,133.00 142.60,133.00 143.00,133.00 143.40,133.00 143.80,133.00 144.20,133.00 144.60,133.00 145.00,133.00 145.40,133.00 145.80,133.00 146.20,133.00 146.60,133.00 147.00,133.00 147.40,133.00 147.80,133.00 148.20,133.00 148.60,133.00 149.00,133.00 149.40,133.00 149.80,133.00 150.20,133.00 150.60,133.00 151.00,133.00 151.40,133.00 151.80,133.00 152.20,133.00 152.60,133.00 153.00,133.00 153.40,133.00 153.80,133.00 154.20,133.00 154.60,133.00 155.00,133.00 155.40,133.00 155.80,133.00 156.20,133.00 156.60,133.00 157.00,133.00 157.40,133.00 157.80,133.00 158.20,133.00 158.60,133.00 159.00,133.00 159.40,133.00 159.80,133.00 160.20,133.00 160.60,133.00 161.00,133.00 161.40,133.00 161.80,133.00 162.20,133.00 162.60,133.00 163.00,133.00 163.40,133.00 163.80,133.00 164.20,133.00 164.60,133.00 165.00,133.00 165.40,133.00 165.80,133.00 166.20,133.00 166.60,133.00 167.00,133.00 167.40,133.00 167.80,133.00 168.20,133.00 168.60,133.00 169.00,133.00 169.40,133.00 169.80,133.00 170.20,133.00 170.60,133.00 171.00,133.00 171.40,133.00 171.80,133.00 172.20,133.00 172.60,133.00 173.00,133.00 173.40,133.00 173.80,133.00 174.10,133.00 174.20,132.92 174.60,131.25 175.00,128.38 175.40,125.54 175.80,124.00 175.80,124.00 176.20,123.56 176.60,123.27 176.90,123.20 177.00,123.27 177.40,124.63 177.80,126.67 178.20,128.03 178.30,128.10 178.60,128.03 179.00,127.73 179.40,127.26 179.80,126.66 179.90,126.50 180.20,125.72 180.60,123.98 181.00,121.74 181.40,119.35 181.60,118.20 181.80,117.06 182.20,114.64 182.60,112.01 182.90,109.90 183.00,109.09 183.40,104.89 183.80,101.38 184.00,100.80 184.20,102.24 184.60,109.50 184.90,113.20 185.00,113.53 185.40,114.38 185.70,114.90 185.80,115.10 186.20,115.83 186.50,116.50 186.60,116.78 187.00,118.24 187.40,119.90 187.40,119.90 187.80,122.03 188.20,124.15 188.50,124.80 188.60,124.26 189.00,114.03 189.40,98.51 189.50,95.00 189.80,81.69 190.20,69.40 190.20,69.40 190.60,88.72 190.70,95.00 191.00,118.12 191.20,126.50 191.40,125.43 191.80,119.53 192.00,116.50 192.20,113.21 192.60,108.30 192.60,108.30 193.00,111.89 193.40,118.50 193.50,119.90 193.80,124.51 194.20,129.51 194.30,129.80 194.60,128.91 195.00,126.12 195.40,123.62 195.60,123.20 195.80,123.63 196.20,126.21 196.60,129.08 196.90,130.00 197.00,130.00 197.40,129.94 197.80,129.85 198.20,129.76 198.60,129.70 198.70,129.70 199.00,129.81 199.40,130.21 199.80,130.78 200.20,131.36 200.60,131.82 201.00,132.00 201.00,132.00 201.40,131.95 201.80,131.82 202.20,131.60 202.60,131.30 203.00,130.93 203.30,130.60 203.40,130.42 203.80,128.75 204.20,126.31 204.60,124.10 204.70,123.70 205.00,122.61 205.40,121.15 205.80,119.86 206.20,118.95 206.60,118.60 206.60,118.60 207.00,119.72 207.40,122.20 207.80,124.73 208.00,125.60 208.20,126.29 208.60,127.34 208.70,127.40 209.00,126.56 209.40,124.18 209.80,122.80 209.80,122.80 210.20,123.02 210.60,123.54 210.70,123.70 211.00,124.66 211.40,126.87 211.80,129.14 212.10,130.20 212.20,130.40 212.60,131.14 213.00,131.71 213.40,131.99 213.50,132.00 213.80,131.28 214.20,128.69 214.60,125.25 214.90,122.80 215.00,122.00 215.40,117.96 215.80,113.59 216.20,110.30 216.50,109.40 216.60,109.49 217.00,111.28 217.40,114.52 217.70,117.20 217.80,118.20 218.20,123.76 218.60,128.30 218.60,128.30 219.00,130.60 219.40,131.93 219.50,132.00 219.80,131.36 220.20,128.94 220.60,125.51 220.90,122.80 221.00,121.77 221.40,115.59 221.80,108.69 222.20,104.51 222.30,104.30 222.60,105.90 223.00,110.92 223.20,113.50 223.40,116.29 223.80,122.90 224.20,127.40 224.20,127.40 224.60,129.22 225.00,130.57 225.40,131.40 225.60,131.60 225.80,131.73 226.20,131.95 226.60,132.14 227.00,132.29 227.40,132.40 227.80,132.47 228.20,132.50 228.30,132.50 228.60,132.48 229.00,132.42 229.40,132.30 229.80,132.16 230.20,132.00 230.60,131.82 231.00,131.64 231.10,131.60 231.40,131.47 231.80,131.27 232.20,131.04 232.60,130.79 233.00,130.51 233.40,130.20 233.40,130.20 233.80,129.75 234.20,129.25 234.50,129.00 234.60,128.95 235.00,128.78 235.40,128.70 235.40,128.70 235.80,129.28 236.20,130.52 236.60,131.68 236.80,132.00 237.00,132.18 237.40,132.50 237.80,132.74 238.20,132.88 238.40,132.90 238.60,132.81 239.00,132.20 239.40,131.26 239.50,131.00 239.80,129.94 240.20,127.88 240.30,127.30 240.60,125.07 240.90,122.70 241.00,122.04 241.40,119.58 241.80,117.33 242.20,115.15 242.50,113.50 242.60,112.94 243.00,110.78 243.40,108.67 243.80,106.50 244.20,104.20 244.20,104.20 244.60,101.83 245.00,99.37 245.40,96.59 245.60,95.00 245.80,93.15 246.20,88.74 246.40,86.40 246.60,83.95 247.00,78.81 247.10,77.60 247.40,74.23 247.80,69.91 247.90,68.80 248.20,65.42 248.60,60.85 248.80,58.50 249.00,56.13 249.40,51.32 249.80,46.20 249.80,46.20 250.20,40.28 250.30,39.00 250.60,35.26 250.80,34.10 251.00,35.39 251.20,38.00 251.40,41.68 251.60,46.20 251.80,50.54 252.20,60.00 252.20,60.00 252.60,71.82 252.70,75.00 253.00,85.52 253.20,92.00 253.40,97.10 253.70,104.00 253.80,106.39 254.10,113.50 254.20,115.97 254.50,122.70 254.60,124.13 255.00,128.43 255.10,129.20 255.40,131.36 255.80,132.90 255.80,132.90 256.20,132.67 256.60,132.16 257.00,131.61 257.10,131.50 257.40,131.14 257.80,130.62 258.20,130.21 258.50,130.10 258.60,130.13 259.00,130.65 259.40,131.45 259.80,131.97 259.90,132.00 260.20,132.00 260.60,131.94 261.00,131.76 261.30,131.50" class="tr"/>
<line x1="311.45" y1="28.6" x2="311.45" y2="200.75" stroke="#1c1c1c" stroke-width="1.8"/>
<line x1="310.55" y1="197.55" x2="540.6" y2="197.55" stroke="#1c1c1c" stroke-width="1.5"/>
<line x1="311.45" y1="197.55" x2="311.45" y2="200.75" stroke="#1c1c1c" stroke-width="1.1"/>
<line x1="327.31" y1="197.55" x2="327.31" y2="199.35000000000002" stroke="#1c1c1c" stroke-width="1.1"/>
<line x1="343.17" y1="197.55" x2="343.17" y2="200.75" stroke="#1c1c1c" stroke-width="1.1"/>
<line x1="359.03" y1="197.55" x2="359.03" y2="199.35000000000002" stroke="#1c1c1c" stroke-width="1.1"/>
<line x1="374.89" y1="197.55" x2="374.89" y2="200.75" stroke="#1c1c1c" stroke-width="1.1"/>
<line x1="390.75" y1="197.55" x2="390.75" y2="199.35000000000002" stroke="#1c1c1c" stroke-width="1.1"/>
<line x1="406.61" y1="197.55" x2="406.61" y2="200.75" stroke="#1c1c1c" stroke-width="1.1"/>
<line x1="422.47" y1="197.55" x2="422.47" y2="199.35000000000002" stroke="#1c1c1c" stroke-width="1.1"/>
<line x1="438.33" y1="197.55" x2="438.33" y2="200.75" stroke="#1c1c1c" stroke-width="1.1"/>
<line x1="454.19" y1="197.55" x2="454.19" y2="199.35000000000002" stroke="#1c1c1c" stroke-width="1.1"/>
<line x1="470.05" y1="197.55" x2="470.05" y2="200.75" stroke="#1c1c1c" stroke-width="1.1"/>
<line x1="485.91" y1="197.55" x2="485.91" y2="199.35000000000002" stroke="#1c1c1c" stroke-width="1.1"/>
<line x1="501.77" y1="197.55" x2="501.77" y2="200.75" stroke="#1c1c1c" stroke-width="1.1"/>
<line x1="517.63" y1="197.55" x2="517.63" y2="199.35000000000002" stroke="#1c1c1c" stroke-width="1.1"/>
<line x1="533.49" y1="197.55" x2="533.49" y2="200.75" stroke="#1c1c1c" stroke-width="1.1"/>
<text x="311.45" y="208.9" class="tl">4000</text>
<text x="343.17" y="208.9" class="tl">3500</text>
<text x="374.89" y="208.9" class="tl">3000</text>
<text x="406.61" y="208.9" class="tl">2500</text>
<text x="438.33" y="208.9" class="tl">2000</text>
<text x="470.05" y="208.9" class="tl">1500</text>
<text x="501.77" y="208.9" class="tl">1000</text>
<text x="533.49" y="208.9" class="tl">500</text>
<text x="426" y="223.9" class="xl">wavenumber (cm<tspan dy="-3" font-size="6">&#8722;1</tspan><tspan dy="3">)</tspan></text>
<text transform="translate(302.6,113.15) rotate(-90)" class="yl">absorption (a.u.)</text>
<text x="286" y="22" class="pl">(b)</text>
<line x1="329.2" y1="36.2" x2="339.6" y2="36.2" stroke="#3c3c3c" stroke-width="1.3"/>
<text x="344.1" y="38.7" class="lg">PEI</text>
<line x1="356.9" y1="36.1" x2="367.8" y2="36.1" stroke="#b08470" stroke-width="1.3"/>
<text x="372.3" y="38.7" class="lg">Caf-PEI-SPIONs</text>
<polyline points="312.00,197.55 312.40,197.55 312.80,197.55 313.20,197.55 313.60,197.55 314.00,197.55 314.40,197.55 314.80,197.55 315.20,197.55 315.60,197.55 316.00,197.55 316.40,197.55 316.80,197.55 317.20,197.55 317.60,197.55 318.00,197.55 318.40,197.55 318.80,197.55 319.20,197.55 319.60,197.55 320.00,197.55 320.40,197.55 320.80,197.55 321.20,197.55 321.60,197.55 322.00,197.55 322.40,197.55 322.80,197.55 323.20,197.55 323.60,197.55 324.00,197.55 324.40,197.55 324.80,197.55 325.20,197.55 325.60,197.55 326.00,197.55 326.40,197.55 326.80,197.55 327.20,197.55 327.60,197.55 328.00,197.55 328.40,197.55 328.80,197.55 329.20,197.55 329.60,197.55 330.00,197.55 330.40,197.55 330.80,197.55 331.20,197.55 331.60,197.55 332.00,197.55 332.40,197.55 332.80,197.55 333.20,197.55 333.60,197.55 334.00,197.55 334.40,197.55 334.80,197.55 335.20,197.55 335.60,197.55 336.00,197.55 336.40,197.55 336.80,197.55 337.20,197.55 337.60,197.55 338.00,197.55 338.00,197.55 338.40,197.52 338.80,197.44 339.20,197.34 339.50,197.25 339.60,197.22 340.00,197.07 340.40,196.88 340.80,196.66 341.20,196.41 341.60,196.14 342.00,195.86 342.40,195.59 342.60,195.45 342.80,195.31 343.20,195.02 343.60,194.71 344.00,194.39 344.40,194.05 344.80,193.71 345.20,193.36 345.60,193.02 346.00,192.67 346.40,192.33 346.50,192.25 346.80,192.00 347.20,191.67 347.60,191.33 348.00,190.99 348.40,190.65 348.80,190.32 349.20,189.98 349.60,189.64 350.00,189.30 350.30,189.05 350.40,188.97 350.80,188.62 351.20,188.26 351.60,187.91 352.00,187.56 352.40,187.24 352.80,186.95 352.80,186.95 353.20,186.70 353.60,186.48 354.00,186.27 354.40,186.04 354.70,185.85 354.80,185.78 355.20,185.40 355.60,184.95 356.00,184.47 356.40,184.04 356.80,183.72 357.20,183.56 357.30,183.55 357.60,183.66 358.00,184.06 358.40,184.64 358.80,185.28 359.20,185.85 359.20,185.85 359.60,186.34 360.00,186.84 360.40,187.34 360.80,187.85 361.20,188.34 361.60,188.83 362.00,189.30 362.40,189.75 362.40,189.75 362.80,190.19 363.20,190.63 363.60,191.06 364.00,191.49 364.40,191.90 364.80,192.30 365.20,192.68 365.60,193.05 366.00,193.39 366.20,193.55 366.40,193.71 366.80,194.02 367.20,194.32 367.60,194.61 368.00,194.89 368.40,195.15 368.80,195.40 369.20,195.63 369.60,195.85 370.00,196.05 370.00,196.05 370.40,196.24 370.80,196.45 371.20,196.65 371.60,196.84 372.00,197.02 372.40,197.17 372.80,197.30 373.20,197.39 373.60,197.44 373.80,197.45 374.00,197.44 374.40,197.35 374.80,197.17 375.00,197.05 375.20,196.64 375.60,194.79 375.70,194.25 376.00,192.19 376.40,188.57 376.70,185.85 376.80,184.97 377.20,181.17 377.60,178.25 377.60,178.25 378.00,176.42 378.40,174.94 378.80,174.19 378.90,174.15 379.20,174.27 379.60,174.70 380.00,175.30 380.40,175.91 380.80,176.35 380.80,176.35 381.20,176.66 381.60,176.97 382.00,177.25 382.40,177.48 382.80,177.62 383.10,177.65 383.20,177.61 383.60,176.65 384.00,174.77 384.40,172.39 384.80,169.93 384.90,169.35 385.20,167.17 385.60,163.42 386.00,159.91 386.40,157.95 386.50,157.85 386.80,158.47 387.20,160.78 387.60,163.93 387.80,165.55 388.00,167.46 388.40,172.61 388.80,177.88 389.10,180.75 389.20,181.43 389.60,183.92 390.00,186.03 390.40,187.79 390.80,189.18 391.00,189.75 391.20,190.26 391.60,191.18 392.00,191.98 392.40,192.68 392.80,193.29 393.20,193.81 393.50,194.15 393.60,194.26 394.00,194.67 394.40,195.05 394.80,195.41 395.20,195.74 395.60,196.04 396.00,196.31 396.40,196.56 396.80,196.78 397.20,196.97 397.40,197.05 397.60,197.13 398.00,197.29 398.40,197.43 398.80,197.53 399.10,197.55 399.20,197.55 399.60,197.55 400.00,197.55 400.40,197.55 400.80,197.55 401.20,197.55 401.60,197.55 402.00,197.55 402.40,197.55 402.80,197.55 403.20,197.55 403.60,197.55 404.00,197.55 404.40,197.55 404.80,197.55 405.20,197.55 405.60,197.55 406.00,197.55 406.40,197.55 406.80,197.55 407.20,197.55 407.60,197.55 408.00,197.55 408.40,197.55 408.80,197.55 409.20,197.55 409.60,197.55 410.00,197.55 410.40,197.55 410.80,197.55 411.20,197.55 411.60,197.55 412.00,197.55 412.40,197.55 412.80,197.55 413.20,197.55 413.60,197.55 414.00,197.55 414.40,197.55 414.80,197.55 415.20,197.55 415.60,197.55 416.00,197.55 416.40,197.55 416.80,197.55 417.20,197.55 417.60,197.55 418.00,197.55 418.40,197.55 418.80,197.55 419.20,197.55 419.60,197.55 420.00,197.55 420.40,197.55 420.80,197.55 421.20,197.55 421.60,197.55 422.00,197.55 422.40,197.55 422.80,197.55 423.20,197.55 423.60,197.55 424.00,197.55 424.40,197.55 424.80,197.55 425.20,197.55 425.60,197.55 426.00,197.55 426.40,197.55 426.80,197.55 427.00,197.55 427.20,197.54 427.60,197.48 428.00,197.37 428.40,197.24 428.80,197.10 429.20,196.96 429.60,196.84 430.00,196.77 430.30,196.75 430.40,196.75 430.80,196.79 431.20,196.87 431.60,196.98 432.00,197.10 432.40,197.23 432.80,197.35 433.20,197.45 433.60,197.52 434.00,197.55 434.00,197.55 434.40,197.55 434.80,197.55 435.20,197.55 435.60,197.55 436.00,197.55 436.40,197.55 436.80,197.55 437.20,197.55 437.60,197.55 438.00,197.55 438.40,197.55 438.80,197.55 439.20,197.55 439.60,197.54 440.00,197.54 440.40,197.54 440.80,197.54 441.20,197.54 441.60,197.54 442.00,197.54 442.40,197.54 442.80,197.53 443.20,197.53 443.60,197.53 444.00,197.53 444.40,197.53 444.80,197.52 445.20,197.52 445.60,197.52 446.00,197.51 446.40,197.51 446.80,197.51 447.20,197.50 447.60,197.50 448.00,197.50 448.40,197.49 448.80,197.49 449.20,197.48 449.60,197.48 450.00,197.47 450.40,197.47 450.80,197.46 451.20,197.46 451.60,197.45 452.00,197.45 452.40,197.44 452.80,197.43 453.20,197.43 453.60,197.42 454.00,197.41 454.40,197.40 454.80,197.39 455.20,197.39 455.60,197.38 456.00,197.37 456.40,197.36 456.80,197.35 456.80,197.35 457.20,196.97 457.60,196.02 458.00,194.75 458.40,193.43 458.70,192.55 458.80,192.29 459.20,191.20 459.60,190.10 460.00,188.99 460.40,187.91 460.50,187.65 460.80,186.91 461.20,186.00 461.60,185.13 462.00,184.22 462.40,183.20 462.80,181.99 462.90,181.65 463.20,180.41 463.60,178.33 464.00,176.09 464.10,175.55 464.40,173.64 464.80,170.66 465.20,168.12 465.60,167.05 465.60,167.05 466.00,168.11 466.40,170.24 466.50,170.75 466.80,172.50 467.20,175.45 467.60,178.55 468.00,181.21 468.40,182.85 468.40,182.85 468.80,183.73 469.20,184.39 469.60,184.65 469.60,184.65 470.00,182.82 470.40,178.71 470.80,174.35 470.80,174.35 471.20,169.65 471.60,163.94 472.00,158.40 472.40,154.21 472.80,152.55 472.80,152.55 473.20,154.11 473.60,157.70 473.80,159.75 474.00,162.69 474.40,171.69 474.80,179.81 475.00,181.65 475.20,182.33 475.60,183.39 476.00,183.97 476.20,184.05 476.40,184.00 476.80,183.66 477.20,183.10 477.60,182.44 478.00,181.79 478.10,181.65 478.40,181.23 478.80,180.66 479.20,180.07 479.60,179.45 480.00,178.80 480.40,178.13 480.50,177.95 480.80,177.46 481.20,176.80 481.60,175.86 481.70,175.55 482.00,173.29 482.40,168.35 482.80,164.84 482.90,164.65 483.20,165.08 483.60,166.67 484.00,168.87 484.10,169.45 484.40,171.88 484.80,176.40 485.20,180.78 485.30,181.65 485.60,184.01 486.00,186.99 486.40,189.69 486.80,191.98 487.20,193.75 487.20,193.75 487.60,195.18 488.00,196.39 488.40,197.15 488.50,197.25 488.80,197.46 489.20,197.67 489.60,197.75 489.60,197.75 490.00,197.19 490.40,195.83 490.80,194.10 491.10,192.85 491.20,192.45 491.60,190.70 492.00,188.76 492.40,186.75 492.60,185.75 492.80,184.64 493.20,181.98 493.60,179.50 494.00,178.12 494.10,178.05 494.40,178.05 494.80,178.05 495.20,178.05 495.40,178.05 495.60,178.44 496.00,180.75 496.40,183.33 496.70,184.15 496.80,184.10 497.20,183.25 497.60,181.94 497.70,181.65 498.00,180.57 498.40,179.05 498.70,178.55 498.80,178.60 499.20,179.58 499.60,181.23 499.70,181.65 500.00,183.25 500.40,186.09 500.80,189.03 501.10,190.85 501.20,191.37 501.60,193.59 502.00,195.35 502.30,195.85 502.40,195.85 502.80,195.85 503.20,195.85 503.30,195.85 503.60,195.58 504.00,194.64 504.40,193.55 504.80,192.85 504.80,192.85 505.20,192.55 505.60,192.28 506.00,192.07 506.40,191.92 506.80,191.85 506.90,191.85 507.20,191.85 507.60,191.85 508.00,191.85 508.40,191.85 508.80,191.85 508.90,191.85 509.20,191.77 509.60,191.48 510.00,191.12 510.40,190.85 510.40,190.85 510.80,190.72 511.20,190.63 511.60,190.55 512.00,190.42 512.30,190.25 512.40,189.97 512.80,186.12 513.20,182.37 513.30,182.15 513.60,182.46 514.00,183.40 514.40,184.11 514.50,184.15 514.80,183.98 515.20,183.38 515.60,182.62 516.00,182.02 516.30,181.85 516.40,181.87 516.80,182.20 517.20,182.85 517.60,183.66 518.00,184.47 518.10,184.65 518.40,185.22 518.80,186.08 519.20,186.98 519.60,187.85 520.00,188.59 520.10,188.75 520.40,189.22 520.80,189.87 521.20,190.50 521.60,191.06 522.00,191.51 522.40,191.78 522.70,191.85 522.80,191.85 523.20,191.78 523.60,191.64 524.00,191.45 524.40,191.24 524.80,191.03 525.20,190.85 525.20,190.85 525.60,190.66 526.00,190.44 526.40,190.22 526.80,190.02 527.20,189.85 527.60,189.76 527.80,189.75 528.00,189.77 528.40,189.90 528.80,190.13 529.20,190.42 529.60,190.76 530.00,191.11 530.30,191.35 530.40,191.43 530.80,191.78 531.20,192.17 531.60,192.58 532.00,193.01 532.40,193.44 532.80,193.85 532.80,193.85 533.20,194.29 533.60,194.77 534.00,195.27 534.40,195.76 534.80,196.21 535.20,196.58 535.60,196.84 535.90,196.95 536.00,196.97 536.40,197.05 536.80,197.13 537.20,197.19 537.60,197.25 538.00,197.31 538.40,197.35 538.80,197.39 539.20,197.42 539.60,197.44 540.00,197.45 540.30,197.45" class="tb"/>
<polyline points="312.00,132.70 312.40,132.70 312.80,132.70 313.20,132.70 313.60,132.70 314.00,132.70 314.40,132.70 314.80,132.70 315.20,132.70 315.60,132.70 316.00,132.70 316.40,132.70 316.80,132.70 317.20,132.70 317.60,132.70 318.00,132.70 318.40,132.70 318.80,132.70 319.20,132.70 319.60,132.70 320.00,132.69 320.40,132.69 320.80,132.69 321.20,132.69 321.60,132.69 322.00,132.69 322.40,132.69 322.80,132.69 323.20,132.69 323.60,132.69 324.00,132.69 324.40,132.68 324.80,132.68 325.20,132.68 325.60,132.68 326.00,132.68 326.40,132.68 326.80,132.67 327.20,132.67 327.60,132.67 328.00,132.67 328.40,132.67 328.80,132.66 329.20,132.66 329.60,132.66 330.00,132.66 330.40,132.65 330.80,132.65 331.20,132.65 331.60,132.65 332.00,132.64 332.40,132.64 332.80,132.64 333.20,132.63 333.60,132.63 334.00,132.62 334.40,132.62 334.80,132.62 335.20,132.61 335.60,132.61 336.00,132.60 336.40,132.60 336.40,132.60 336.80,132.49 337.20,132.22 337.60,131.83 338.00,131.36 338.30,131.00 338.40,130.87 338.80,130.21 339.20,129.37 339.60,128.41 340.00,127.40 340.20,126.90 340.40,126.38 340.80,125.27 341.20,124.07 341.60,122.81 342.00,121.53 342.40,120.25 342.70,119.30 342.80,118.99 343.20,117.70 343.60,116.39 344.00,115.06 344.40,113.75 344.80,112.49 345.20,111.29 345.30,111.00 345.60,110.14 346.00,108.97 346.40,107.82 346.80,106.73 347.20,105.76 347.60,104.94 347.80,104.60 348.00,104.29 348.40,103.72 348.80,103.20 349.20,102.74 349.60,102.33 350.00,101.98 350.40,101.70 350.40,101.70 350.80,101.46 351.20,101.24 351.60,101.05 352.00,100.88 352.40,100.74 352.80,100.62 352.90,100.60 353.20,100.54 353.60,100.48 354.00,100.43 354.40,100.38 354.80,100.33 355.20,100.26 355.50,100.20 355.60,100.17 356.00,99.96 356.40,99.71 356.80,99.53 357.00,99.50 357.20,99.55 357.60,99.92 358.00,100.52 358.40,101.19 358.60,101.50 358.80,101.81 359.20,102.48 359.60,103.22 360.00,104.00 360.40,104.82 360.80,105.66 361.20,106.50 361.20,106.50 361.60,107.40 362.00,108.38 362.40,109.39 362.80,110.38 363.20,111.31 363.60,112.12 363.70,112.30 364.00,112.81 364.40,113.46 364.80,114.07 365.20,114.64 365.60,115.18 366.00,115.68 366.40,116.15 366.80,116.59 366.90,116.70 367.20,117.01 367.60,117.40 368.00,117.76 368.40,118.11 368.80,118.44 369.20,118.76 369.60,119.07 370.00,119.37 370.40,119.67 370.70,119.90 370.80,119.98 371.20,120.31 371.60,120.66 372.00,121.03 372.40,121.39 372.80,121.72 373.20,122.02 373.60,122.25 374.00,122.42 374.40,122.50 374.50,122.50 374.80,122.20 375.20,121.07 375.60,119.46 375.80,118.60 376.00,117.51 376.40,114.36 376.80,110.99 377.10,109.10 377.20,108.62 377.60,106.73 378.00,105.22 378.40,104.60 378.40,104.60 378.80,104.93 379.20,105.76 379.60,106.82 380.00,107.87 380.30,108.50 380.40,108.68 380.80,109.44 381.20,110.23 381.60,110.92 382.00,111.41 382.40,111.60 382.40,111.60 382.80,111.00 383.20,109.50 383.60,107.58 384.00,105.71 384.10,105.30 384.40,103.96 384.80,101.85 385.20,99.79 385.60,98.22 386.00,97.60 386.00,97.60 386.40,98.54 386.80,100.76 387.20,103.38 387.30,104.00 387.60,106.04 388.00,109.28 388.40,112.61 388.80,115.50 388.80,115.50 389.20,118.06 389.60,120.54 390.00,122.66 390.40,124.16 390.50,124.40 390.80,124.99 391.20,125.66 391.60,126.21 392.00,126.68 392.40,127.09 392.80,127.46 393.20,127.82 393.60,128.20 393.60,128.20 394.00,128.59 394.40,128.97 394.80,129.34 395.20,129.69 395.60,130.03 396.00,130.36 396.40,130.66 396.80,130.95 397.20,131.22 397.50,131.40 397.60,131.46 398.00,131.71 398.40,131.97 398.80,132.21 399.20,132.41 399.60,132.55 400.00,132.60 400.00,132.60 400.40,132.60 400.80,132.61 401.20,132.61 401.60,132.62 402.00,132.62 402.40,132.62 402.80,132.63 403.20,132.63 403.60,132.63 404.00,132.64 404.40,132.64 404.80,132.64 405.20,132.65 405.60,132.65 406.00,132.65 406.40,132.65 406.80,132.66 407.20,132.66 407.60,132.66 408.00,132.66 408.40,132.67 408.80,132.67 409.20,132.67 409.60,132.67 410.00,132.67 410.40,132.68 410.80,132.68 411.20,132.68 411.60,132.68 412.00,132.68 412.40,132.68 412.80,132.68 413.20,132.69 413.60,132.69 414.00,132.69 414.40,132.69 414.80,132.69 415.20,132.69 415.60,132.69 416.00,132.69 416.40,132.69 416.80,132.69 417.20,132.70 417.60,132.70 418.00,132.70 418.40,132.70 418.80,132.70 419.20,132.70 419.60,132.70 420.00,132.70 420.40,132.70 420.80,132.70 421.20,132.70 421.60,132.70 422.00,132.70 422.40,132.70 422.80,132.70 423.20,132.70 423.60,132.70 424.00,132.70 424.40,132.70 424.80,132.70 425.00,132.70 425.20,132.69 425.60,132.64 426.00,132.54 426.40,132.41 426.80,132.26 427.20,132.10 427.60,131.94 428.00,131.79 428.40,131.66 428.80,131.56 429.20,131.51 429.40,131.50 429.60,131.51 430.00,131.59 430.40,131.73 430.80,131.90 431.20,132.10 431.60,132.30 432.00,132.47 432.40,132.61 432.80,132.69 433.00,132.70 433.20,132.70 433.60,132.70 434.00,132.70 434.40,132.70 434.80,132.70 435.20,132.70 435.60,132.70 436.00,132.70 436.40,132.70 436.80,132.70 437.20,132.70 437.60,132.70 438.00,132.70 438.40,132.70 438.80,132.70 439.20,132.69 439.60,132.69 440.00,132.69 440.40,132.69 440.80,132.69 441.20,132.69 441.60,132.69 442.00,132.69 442.40,132.68 442.80,132.68 443.20,132.68 443.60,132.68 444.00,132.68 444.40,132.67 444.80,132.67 445.20,132.67 445.60,132.67 446.00,132.66 446.40,132.66 446.80,132.66 447.20,132.65 447.60,132.65 448.00,132.64 448.40,132.64 448.80,132.64 449.20,132.63 449.60,132.63 450.00,132.62 450.40,132.62 450.80,132.61 451.20,132.60 451.60,132.60 452.00,132.59 452.40,132.59 452.80,132.58 453.20,132.57 453.60,132.56 454.00,132.56 454.40,132.55 454.80,132.54 455.20,132.53 455.60,132.52 456.00,132.51 456.40,132.50 456.60,132.50 456.80,132.42 457.20,131.89 457.60,131.00 457.60,131.00 458.00,128.59 458.40,124.40 458.80,120.00 458.80,120.00 459.20,115.80 459.60,111.35 459.90,108.00 460.00,106.86 460.40,101.83 460.80,96.98 461.20,93.50 461.20,93.50 461.60,91.46 462.00,89.96 462.40,88.73 462.80,87.53 463.20,86.09 463.50,84.70 463.60,84.12 464.00,80.82 464.40,76.60 464.80,72.33 465.20,68.87 465.60,67.08 465.70,67.00 466.00,67.52 466.40,69.59 466.80,72.76 467.20,76.50 467.60,80.31 467.90,82.90 468.00,83.76 468.40,88.02 468.80,92.65 469.20,96.37 469.60,97.90 469.60,97.90 470.00,94.45 470.40,86.52 470.80,77.68 471.20,71.54 471.40,70.60 471.60,71.47 472.00,77.16 472.40,85.30 472.80,92.48 473.10,95.20 473.20,95.53 473.60,96.69 474.00,97.62 474.40,98.36 474.80,98.97 475.20,99.48 475.60,99.96 476.00,100.43 476.40,100.95 476.70,101.40 476.80,101.56 477.20,102.29 477.60,103.07 478.00,103.88 478.40,104.66 478.80,105.38 479.20,105.98 479.60,106.42 480.00,106.67 480.20,106.70 480.40,106.43 480.80,104.61 481.20,101.76 481.60,98.67 482.00,96.19 482.30,95.20 482.40,95.04 482.80,94.47 483.20,93.99 483.60,93.66 484.00,93.51 484.10,93.50 484.40,93.98 484.80,95.86 485.20,98.75 485.60,102.20 485.80,104.00 486.00,106.36 486.40,113.29 486.80,120.37 487.10,123.80 487.20,124.47 487.60,126.76 488.00,128.48 488.40,129.75 488.50,130.00 488.80,130.73 489.20,131.62 489.60,132.33 490.00,132.74 490.20,132.80 490.40,132.75 490.80,132.43 491.20,131.88 491.60,131.22 491.90,130.70 492.00,130.52 492.40,129.66 492.80,128.61 493.20,127.44 493.60,126.21 493.70,125.90 494.00,124.69 494.40,122.96 494.70,122.40 494.80,122.45 495.20,123.30 495.60,124.60 496.00,125.45 496.10,125.50 496.40,125.50 496.80,125.50 497.20,125.50 497.60,125.50 497.80,125.50 498.00,125.56 498.40,125.99 498.80,126.68 499.20,127.46 499.50,128.00 499.60,128.17 500.00,128.96 500.40,129.81 500.80,130.63 501.20,131.28 501.30,131.40 501.60,131.74 502.00,132.15 502.40,132.50 502.80,132.73 503.00,132.80 503.20,132.85 503.60,132.93 504.00,133.01 504.40,133.07 504.80,133.12 505.20,133.16 505.60,133.19 506.00,133.20 506.10,133.20 506.40,133.20 506.80,133.20 507.20,133.20 507.60,133.20 508.00,133.20 508.40,133.20 508.80,133.20 509.20,133.20 509.60,133.20 509.60,133.20 510.00,133.14 510.40,132.98 510.80,132.74 511.00,132.60 511.20,132.33 511.60,131.35 512.00,130.30 512.00,130.30 512.40,129.33 512.80,128.27 513.20,127.32 513.60,126.67 513.90,126.50 514.00,126.59 514.40,128.23 514.80,130.51 515.10,131.50 515.20,131.62 515.60,132.06 516.00,132.41 516.40,132.65 516.80,132.78 517.00,132.80 517.20,132.71 517.60,132.12 518.00,131.14 518.30,130.30 518.40,129.98 518.80,128.06 519.20,125.68 519.50,124.00 519.60,123.50 520.00,121.54 520.40,119.62 520.80,117.70 520.80,117.70 521.20,115.78 521.60,113.86 522.00,111.90 522.10,111.40 522.40,109.95 522.80,108.01 523.20,105.75 523.30,105.10 523.60,102.96 524.00,99.56 524.40,95.23 524.60,92.60 524.80,88.70 525.10,82.00 525.20,80.30 525.60,74.32 525.90,70.30 526.00,68.99 526.40,64.10 526.80,59.40 526.90,58.20 527.20,54.55 527.60,49.69 527.90,46.10 528.00,44.91 528.40,40.16 528.60,38.00 528.80,35.65 529.10,33.40 529.20,33.60 529.60,36.98 529.70,38.00 530.00,41.47 530.30,46.10 530.40,48.05 530.80,58.20 530.80,58.20 531.20,70.30 531.20,70.30 531.40,82.00 531.60,91.07 531.70,95.00 532.00,105.00 532.00,105.00 532.40,115.72 532.50,117.70 532.80,122.59 533.20,127.29 533.30,128.00 533.60,129.69 534.00,131.42 534.40,132.10 534.40,132.10 534.80,131.89 535.20,131.41 535.50,131.00 535.60,130.85 536.00,130.00 536.40,129.15 536.50,129.00 536.80,128.58 537.20,128.07 537.60,127.75 537.80,127.70 538.00,128.03 538.40,129.90 538.80,131.77 539.00,132.10 539.20,132.10 539.60,132.04 540.00,131.83 540.30,131.50" class="tr"/>
<line x1="32.45" y1="250.6" x2="32.45" y2="423.59999999999997" stroke="#1c1c1c" stroke-width="1.8"/>
<line x1="31.550000000000004" y1="420.4" x2="261.1" y2="420.4" stroke="#1c1c1c" stroke-width="1.5"/>
<line x1="32.45" y1="420.4" x2="32.45" y2="423.59999999999997" stroke="#1c1c1c" stroke-width="1.1"/>
<line x1="48.30" y1="420.4" x2="48.30" y2="422.2" stroke="#1c1c1c" stroke-width="1.1"/>
<line x1="64.16" y1="420.4" x2="64.16" y2="423.59999999999997" stroke="#1c1c1c" stroke-width="1.1"/>
<line x1="80.01" y1="420.4" x2="80.01" y2="422.2" stroke="#1c1c1c" stroke-width="1.1"/>
<line x1="95.86" y1="420.4" x2="95.86" y2="423.59999999999997" stroke="#1c1c1c" stroke-width="1.1"/>
<line x1="111.71" y1="420.4" x2="111.71" y2="422.2" stroke="#1c1c1c" stroke-width="1.1"/>
<line x1="127.56" y1="420.4" x2="127.56" y2="423.59999999999997" stroke="#1c1c1c" stroke-width="1.1"/>
<line x1="143.42" y1="420.4" x2="143.42" y2="422.2" stroke="#1c1c1c" stroke-width="1.1"/>
<line x1="159.27" y1="420.4" x2="159.27" y2="423.59999999999997" stroke="#1c1c1c" stroke-width="1.1"/>
<line x1="175.12" y1="420.4" x2="175.12" y2="422.2" stroke="#1c1c1c" stroke-width="1.1"/>
<line x1="190.97" y1="420.4" x2="190.97" y2="423.59999999999997" stroke="#1c1c1c" stroke-width="1.1"/>
<line x1="206.83" y1="420.4" x2="206.83" y2="422.2" stroke="#1c1c1c" stroke-width="1.1"/>
<line x1="222.68" y1="420.4" x2="222.68" y2="423.59999999999997" stroke="#1c1c1c" stroke-width="1.1"/>
<line x1="238.53" y1="420.4" x2="238.53" y2="422.2" stroke="#1c1c1c" stroke-width="1.1"/>
<line x1="254.38" y1="420.4" x2="254.38" y2="423.59999999999997" stroke="#1c1c1c" stroke-width="1.1"/>
<text x="32.45" y="431.7" class="tl">4000</text>
<text x="64.16" y="431.7" class="tl">3500</text>
<text x="95.86" y="431.7" class="tl">3000</text>
<text x="127.56" y="431.7" class="tl">2500</text>
<text x="159.27" y="431.7" class="tl">2000</text>
<text x="190.97" y="431.7" class="tl">1500</text>
<text x="222.68" y="431.7" class="tl">1000</text>
<text x="254.38" y="431.7" class="tl">500</text>
<text x="146.3" y="446.5" class="xl">wavenumber (cm<tspan dy="-3" font-size="6">&#8722;1</tspan><tspan dy="3">)</tspan></text>
<text transform="translate(23.3,335.2) rotate(-90)" class="yl">absorption (a.u.)</text>
<text x="6.5" y="246.1" class="pl">(c)</text>
<line x1="49.9" y1="258.4" x2="59.8" y2="258.4" stroke="#3c3c3c" stroke-width="1.3"/>
<text x="64.8" y="260.5" class="lg">pDNA</text>
<line x1="85.4" y1="258.4" x2="95.9" y2="258.4" stroke="#b08470" stroke-width="1.3"/>
<text x="100.5" y="260.5" class="lg">7.5 wt% pDNA-SPIONs</text>
<polyline points="33.00,420.35 33.40,420.35 33.80,420.35 34.20,420.35 34.60,420.35 35.00,420.35 35.40,420.35 35.80,420.35 36.20,420.35 36.60,420.35 37.00,420.35 37.40,420.35 37.80,420.35 38.20,420.35 38.60,420.35 39.00,420.35 39.40,420.35 39.80,420.35 40.20,420.35 40.60,420.35 41.00,420.35 41.40,420.35 41.80,420.35 42.20,420.35 42.60,420.35 43.00,420.35 43.40,420.35 43.80,420.35 44.20,420.35 44.60,420.35 45.00,420.35 45.40,420.35 45.80,420.35 46.20,420.35 46.60,420.35 47.00,420.35 47.40,420.35 47.80,420.35 48.20,420.35 48.60,420.35 49.00,420.35 49.40,420.35 49.80,420.35 50.20,420.35 50.60,420.35 51.00,420.35 51.40,420.35 51.80,420.35 52.20,420.35 52.60,420.35 53.00,420.35 53.40,420.35 53.50,420.35 53.80,420.31 54.20,420.17 54.50,420.05 54.60,420.01 55.00,419.79 55.40,419.50 55.80,419.17 56.20,418.82 56.60,418.47 57.00,418.14 57.40,417.85 57.40,417.85 57.80,417.60 58.20,417.36 58.60,417.13 59.00,416.91 59.40,416.70 59.80,416.49 60.20,416.28 60.60,416.07 61.00,415.86 61.40,415.63 61.80,415.40 62.20,415.15 62.50,414.95 62.60,414.88 63.00,414.59 63.40,414.27 63.80,413.94 64.20,413.59 64.60,413.24 65.00,412.88 65.40,412.52 65.80,412.17 66.20,411.83 66.60,411.51 66.80,411.35 67.00,411.20 67.40,410.88 67.80,410.56 68.20,410.23 68.60,409.92 69.00,409.62 69.40,409.34 69.80,409.09 70.20,408.88 70.50,408.75 70.60,408.71 71.00,408.55 71.40,408.39 71.80,408.24 72.20,408.10 72.60,407.98 73.00,407.88 73.40,407.81 73.80,407.76 74.10,407.75 74.20,407.75 74.60,407.80 75.00,407.90 75.40,408.04 75.80,408.21 76.20,408.39 76.60,408.58 77.00,408.75 77.00,408.75 77.40,408.94 77.80,409.18 78.20,409.44 78.60,409.69 79.00,409.91 79.40,410.07 79.80,410.15 79.90,410.15 80.20,410.13 80.60,410.06 81.00,409.96 81.40,409.83 81.80,409.70 82.20,409.58 82.60,409.50 83.00,409.45 83.10,409.45 83.40,409.50 83.80,409.69 84.20,409.98 84.60,410.35 85.00,410.73 85.40,411.11 85.70,411.35 85.80,411.42 86.20,411.72 86.60,412.03 87.00,412.33 87.40,412.64 87.80,412.94 88.20,413.25 88.60,413.55 88.60,413.55 89.00,413.86 89.40,414.18 89.80,414.50 90.20,414.82 90.60,415.13 91.00,415.42 91.40,415.69 91.50,415.75 91.80,415.94 92.20,416.21 92.60,416.49 93.00,416.76 93.40,417.02 93.80,417.24 94.20,417.43 94.60,417.57 95.00,417.64 95.20,417.65 95.40,417.64 95.80,417.56 96.20,417.43 96.60,417.27 97.00,417.11 97.40,416.97 97.80,416.87 98.10,416.85 98.20,416.85 98.60,416.94 99.00,417.11 99.40,417.35 99.80,417.62 100.20,417.90 100.60,418.15 101.00,418.35 101.00,418.35 101.40,418.52 101.80,418.71 102.20,418.89 102.60,419.06 103.00,419.20 103.40,419.30 103.80,419.35 103.90,419.35 104.20,419.35 104.60,419.35 105.00,419.35 105.40,419.35 105.80,419.35 106.20,419.35 106.60,419.35 107.00,419.35 107.40,419.35 107.50,419.35 107.80,419.34 108.20,419.32 108.60,419.29 109.00,419.24 109.40,419.19 109.80,419.15 110.20,419.10 110.60,419.07 111.00,419.05 111.20,419.05 111.40,419.05 111.80,419.09 112.20,419.16 112.60,419.24 113.00,419.34 113.40,419.44 113.80,419.55 114.20,419.64 114.60,419.72 114.80,419.75 115.00,419.78 115.40,419.83 115.80,419.89 116.20,419.94 116.60,420.00 117.00,420.05 117.40,420.10 117.80,420.15 118.20,420.19 118.60,420.23 119.00,420.27 119.40,420.30 119.80,420.32 120.20,420.34 120.60,420.35 120.90,420.35 121.00,420.35 121.40,420.35 121.80,420.35 122.20,420.35 122.60,420.35 123.00,420.35 123.40,420.35 123.80,420.35 124.20,420.35 124.60,420.35 125.00,420.35 125.40,420.35 125.80,420.35 126.20,420.35 126.60,420.35 127.00,420.35 127.40,420.35 127.80,420.35 128.20,420.35 128.60,420.35 129.00,420.35 129.40,420.35 129.80,420.35 130.20,420.35 130.60,420.35 131.00,420.35 131.40,420.35 131.80,420.35 132.20,420.35 132.60,420.35 133.00,420.35 133.40,420.35 133.80,420.35 134.20,420.35 134.60,420.35 135.00,420.35 135.40,420.35 135.80,420.35 136.20,420.35 136.60,420.35 137.00,420.35 137.40,420.35 137.80,420.35 138.20,420.35 138.60,420.35 139.00,420.35 139.40,420.35 139.80,420.35 140.20,420.35 140.60,420.35 141.00,420.35 141.40,420.35 141.80,420.35 142.20,420.35 142.60,420.35 143.00,420.35 143.40,420.35 143.80,420.35 144.20,420.35 144.60,420.35 145.00,420.35 145.40,420.35 145.80,420.35 146.20,420.35 146.60,420.35 147.00,420.35 147.40,420.35 147.80,420.35 148.20,420.35 148.60,420.35 149.00,420.35 149.40,420.35 149.80,420.35 150.20,420.35 150.60,420.35 151.00,420.35 151.40,420.35 151.80,420.35 152.20,420.35 152.60,420.35 153.00,420.35 153.40,420.35 153.80,420.35 154.20,420.35 154.60,420.35 155.00,420.35 155.40,420.35 155.80,420.35 156.20,420.35 156.60,420.35 157.00,420.35 157.40,420.35 157.80,420.35 158.20,420.35 158.60,420.35 159.00,420.35 159.40,420.35 159.80,420.35 160.20,420.35 160.60,420.35 161.00,420.35 161.40,420.35 161.80,420.35 162.20,420.35 162.60,420.35 163.00,420.35 163.40,420.35 163.80,420.35 164.20,420.35 164.60,420.35 165.00,420.35 165.40,420.35 165.80,420.35 166.20,420.35 166.60,420.35 167.00,420.35 167.40,420.35 167.80,420.35 168.20,420.35 168.60,420.35 169.00,420.35 169.40,420.35 169.80,420.35 170.20,420.35 170.60,420.35 171.00,420.35 171.40,420.35 171.80,420.35 172.20,420.35 172.60,420.35 173.00,420.35 173.40,420.35 173.80,420.35 174.20,420.35 174.60,420.35 175.00,420.35 175.30,420.35 175.40,420.28 175.80,418.75 176.20,415.99 176.40,414.45 176.60,412.26 177.00,406.14 177.30,402.95 177.40,402.43 177.80,400.80 178.20,399.85 178.20,399.85 178.60,399.37 179.00,399.06 179.40,398.68 179.50,398.55 179.80,398.01 180.20,397.03 180.60,395.95 180.60,395.95 181.00,394.50 181.40,393.32 181.50,393.25 181.80,393.88 182.20,395.84 182.40,396.85 182.60,397.91 183.00,400.35 183.30,401.65 183.40,401.90 183.80,402.57 184.20,403.22 184.30,403.45 184.60,404.50 185.00,406.39 185.20,407.35 185.40,408.31 185.80,410.33 186.10,411.75 186.20,412.19 186.60,413.96 187.00,415.52 187.20,416.15 187.40,416.75 187.80,417.78 188.00,417.95 188.20,417.88 188.60,417.44 188.90,417.05 189.00,416.93 189.40,416.43 189.80,415.85 190.10,415.35 190.20,415.17 190.60,414.30 190.90,413.55 191.00,413.23 191.40,411.68 191.60,411.35 191.80,411.81 192.20,414.00 192.30,414.45 192.60,415.61 193.00,416.86 193.10,417.05 193.40,417.49 193.80,417.97 194.20,418.27 194.50,418.35 194.60,418.34 195.00,418.22 195.40,418.04 195.80,417.95 195.80,417.95 196.20,418.11 196.60,418.42 197.00,418.64 197.10,418.65 197.40,418.44 197.80,417.77 198.20,417.14 198.30,417.05 198.60,416.84 199.00,416.66 199.10,416.65 199.40,416.97 199.80,417.92 200.00,418.35 200.20,418.74 200.60,419.59 201.00,420.12 201.10,420.15 201.40,420.15 201.80,420.15 202.20,420.15 202.40,420.15 202.60,419.95 203.00,418.68 203.40,416.92 203.70,415.75 203.80,415.44 204.20,414.33 204.60,413.21 205.00,411.75 205.00,411.75 205.40,409.31 205.80,406.02 206.20,402.68 206.40,401.25 206.60,399.84 207.00,396.80 207.40,394.42 207.70,393.75 207.80,393.83 208.20,395.38 208.60,398.05 208.80,399.45 209.00,401.06 209.40,405.23 209.80,409.26 209.90,410.05 210.20,412.18 210.60,414.54 210.80,415.35 211.00,415.97 211.40,417.00 211.80,417.72 212.00,417.95 212.20,418.13 212.60,418.45 213.00,418.69 213.40,418.83 213.60,418.85 213.80,418.47 214.20,415.94 214.60,412.22 214.80,410.35 215.00,408.34 215.40,403.36 215.80,398.05 216.10,394.55 216.20,393.49 216.60,389.16 217.00,385.43 217.30,383.65 217.40,383.29 217.80,382.25 218.20,381.45 218.50,380.65 218.60,380.24 219.00,377.96 219.30,377.05 219.40,377.19 219.80,379.82 220.20,383.90 220.30,384.85 220.60,388.09 221.00,392.76 221.20,394.55 221.40,395.80 221.80,397.73 222.10,399.45 222.20,400.27 222.60,405.19 223.00,410.05 223.30,411.55 223.40,411.34 223.80,407.62 224.20,402.72 224.30,401.85 224.60,399.47 225.00,396.88 225.20,396.45 225.40,397.77 225.80,404.27 226.00,406.75 226.20,408.20 226.60,410.54 227.00,412.15 227.00,412.15 227.40,413.37 227.80,414.46 228.20,415.31 228.60,415.78 228.80,415.85 229.00,415.85 229.40,415.85 229.80,415.85 230.20,415.85 230.60,415.85 231.00,415.85 231.20,415.85 231.40,415.79 231.80,415.37 232.20,414.68 232.60,413.92 233.00,413.23 233.40,412.81 233.60,412.75 233.80,412.84 234.20,413.38 234.60,414.08 235.00,414.53 235.10,414.55 235.40,414.28 235.80,413.43 236.20,412.68 236.40,412.55 236.60,412.83 237.00,414.56 237.40,416.77 237.80,418.18 237.90,418.25 238.20,418.23 238.60,418.17 239.00,418.07 239.40,417.95 239.80,417.81 240.20,417.68 240.30,417.65 240.60,417.56 241.00,417.45 241.40,417.33 241.80,417.20 242.20,417.05 242.60,416.86 243.00,416.64 243.30,416.45 243.40,416.36 243.80,415.63 244.20,414.55 244.60,413.42 245.00,412.52 245.40,412.15 245.40,412.15 245.80,412.31 246.20,412.69 246.60,413.17 247.00,413.62 247.40,413.91 247.60,413.95 247.80,413.87 248.20,413.32 248.60,412.41 249.00,411.35 249.40,410.35 249.40,410.35 249.80,409.29 250.20,408.00 250.60,406.60 251.00,405.22 251.40,404.00 251.80,403.06 252.20,402.52 252.40,402.45 252.60,402.59 253.00,403.56 253.40,405.08 253.80,406.69 254.20,407.95 254.20,407.95 254.60,408.82 255.00,409.57 255.40,410.28 255.80,410.99 256.10,411.55 256.20,411.75 256.60,412.56 257.00,413.39 257.40,414.23 257.80,415.06 258.20,415.87 258.50,416.45 258.60,416.64 259.00,417.38 259.40,418.10 259.80,418.80 260.20,419.49 260.60,420.15" class="tb"/>
<polyline points="33.00,355.20 33.40,355.21 33.80,355.22 34.20,355.23 34.60,355.24 35.00,355.25 35.40,355.26 35.80,355.27 36.20,355.28 36.60,355.28 37.00,355.29 37.40,355.30 37.80,355.31 38.20,355.31 38.60,355.32 39.00,355.33 39.40,355.33 39.80,355.34 40.20,355.34 40.60,355.35 41.00,355.35 41.40,355.35 41.80,355.36 42.20,355.36 42.60,355.37 43.00,355.37 43.40,355.37 43.80,355.38 44.20,355.38 44.60,355.38 45.00,355.38 45.40,355.38 45.80,355.39 46.20,355.39 46.60,355.39 47.00,355.39 47.40,355.39 47.80,355.39 48.20,355.39 48.60,355.40 49.00,355.40 49.40,355.40 49.80,355.40 50.20,355.40 50.60,355.40 51.00,355.40 51.40,355.40 51.80,355.40 52.20,355.40 52.60,355.40 53.00,355.40 53.40,355.40 53.80,355.40 54.20,355.40 54.50,355.40 54.60,355.39 55.00,355.25 55.40,354.97 55.60,354.80 55.80,354.57 56.20,353.80 56.60,352.78 57.00,351.67 57.30,350.90 57.40,350.66 57.80,349.69 58.20,348.72 58.60,347.72 59.00,346.67 59.40,345.58 59.50,345.30 59.80,344.43 60.20,343.23 60.60,341.98 61.00,340.68 61.40,339.33 61.80,337.94 62.20,336.50 62.20,336.50 62.60,334.99 63.00,333.40 63.40,331.75 63.80,330.05 64.20,328.33 64.30,327.90 64.60,326.56 65.00,324.66 65.40,322.72 65.80,320.82 66.20,319.07 66.50,317.90 66.60,317.54 67.00,316.11 67.40,314.76 67.80,313.51 68.20,312.42 68.60,311.50 68.60,311.50 69.00,310.71 69.40,309.97 69.80,309.29 70.20,308.67 70.60,308.13 71.00,307.66 71.40,307.28 71.50,307.20 71.80,306.96 72.20,306.66 72.60,306.37 73.00,306.12 73.40,305.91 73.80,305.77 74.20,305.70 74.30,305.70 74.60,305.71 75.00,305.76 75.40,305.85 75.80,305.96 76.20,306.10 76.60,306.25 77.00,306.42 77.20,306.50 77.40,306.59 77.80,306.83 78.20,307.13 78.60,307.48 79.00,307.88 79.30,308.20 79.40,308.32 79.80,308.87 80.20,309.54 80.60,310.30 81.00,311.12 81.40,311.96 81.80,312.80 82.20,313.60 82.20,313.60 82.60,314.39 83.00,315.20 83.40,316.02 83.80,316.86 84.20,317.69 84.60,318.50 85.00,319.30 85.40,320.07 85.80,320.80 85.80,320.80 86.20,321.49 86.60,322.17 87.00,322.82 87.40,323.46 87.80,324.08 88.20,324.69 88.60,325.30 89.00,325.90 89.40,326.50 89.40,326.50 89.80,327.11 90.20,327.72 90.60,328.34 91.00,328.95 91.40,329.54 91.80,330.11 92.20,330.65 92.60,331.15 92.90,331.50 93.00,331.61 93.40,332.09 93.80,332.59 94.20,333.06 94.60,333.46 95.00,333.75 95.40,333.89 95.50,333.90 95.80,333.59 96.20,332.44 96.60,330.85 97.00,329.26 97.20,328.60 97.40,327.97 97.80,326.55 98.20,325.09 98.60,323.79 99.00,322.86 99.40,322.50 99.40,322.50 99.80,323.06 100.20,324.41 100.60,326.04 101.00,327.44 101.20,327.90 101.40,328.25 101.80,328.93 102.20,329.53 102.60,329.94 103.00,330.10 103.00,330.10 103.40,329.60 103.80,328.36 104.20,326.74 104.60,325.10 105.00,323.82 105.10,323.60 105.40,322.99 105.80,322.20 106.20,321.65 106.50,321.50 106.60,321.54 107.00,322.32 107.40,323.87 107.80,325.80 108.10,327.30 108.20,327.83 108.60,330.59 109.00,333.76 109.40,336.50 109.40,336.50 109.80,338.73 110.20,340.78 110.60,342.41 110.80,343.00 111.00,343.47 111.40,344.28 111.80,344.94 112.20,345.51 112.60,346.04 113.00,346.56 113.10,346.70 113.40,347.11 113.80,347.65 114.20,348.16 114.60,348.66 115.00,349.14 115.40,349.61 115.80,350.08 116.20,350.53 116.60,350.97 116.90,351.30 117.00,351.41 117.40,351.88 117.80,352.36 118.20,352.86 118.60,353.34 119.00,353.80 119.40,354.21 119.80,354.55 120.20,354.83 120.60,355.00 120.60,355.00 121.00,355.12 121.40,355.23 121.80,355.33 122.20,355.43 122.60,355.52 123.00,355.59 123.40,355.66 123.80,355.71 124.20,355.75 124.60,355.78 125.00,355.80 125.20,355.80 125.40,355.80 125.80,355.80 126.20,355.80 126.60,355.80 127.00,355.79 127.40,355.79 127.80,355.79 128.20,355.78 128.60,355.78 129.00,355.77 129.40,355.77 129.80,355.76 130.20,355.76 130.60,355.75 131.00,355.74 131.40,355.74 131.80,355.73 132.20,355.72 132.60,355.71 133.00,355.71 133.40,355.70 133.80,355.69 134.20,355.68 134.60,355.67 135.00,355.66 135.40,355.65 135.80,355.64 136.20,355.63 136.60,355.62 137.00,355.61 137.40,355.60 137.80,355.60 138.20,355.59 138.60,355.58 139.00,355.57 139.40,355.56 139.80,355.55 140.20,355.54 140.60,355.53 141.00,355.52 141.40,355.51 141.80,355.50 142.20,355.49 142.60,355.49 143.00,355.48 143.40,355.47 143.80,355.46 144.20,355.46 144.60,355.45 145.00,355.44 145.40,355.44 145.80,355.43 146.20,355.43 146.60,355.42 147.00,355.42 147.40,355.41 147.80,355.41 148.20,355.41 148.60,355.40 149.00,355.40 149.40,355.40 149.80,355.40 150.00,355.40 150.20,355.40 150.60,355.40 151.00,355.40 151.40,355.40 151.80,355.40 152.20,355.40 152.60,355.41 153.00,355.41 153.40,355.41 153.80,355.41 154.20,355.41 154.60,355.42 155.00,355.42 155.40,355.42 155.80,355.42 156.20,355.43 156.60,355.43 157.00,355.43 157.40,355.44 157.80,355.44 158.20,355.45 158.60,355.45 159.00,355.45 159.40,355.46 159.80,355.46 160.20,355.47 160.60,355.47 161.00,355.48 161.40,355.48 161.80,355.48 162.20,355.49 162.60,355.49 163.00,355.50 163.40,355.50 163.80,355.51 164.20,355.51 164.60,355.52 165.00,355.52 165.40,355.53 165.80,355.53 166.20,355.53 166.60,355.54 167.00,355.54 167.40,355.55 167.80,355.55 168.20,355.55 168.60,355.56 169.00,355.56 169.40,355.57 169.80,355.57 170.20,355.57 170.60,355.58 171.00,355.58 171.40,355.58 171.80,355.58 172.20,355.59 172.60,355.59 173.00,355.59 173.40,355.59 173.80,355.59 174.20,355.60 174.60,355.60 175.00,355.60 175.40,355.60 175.80,355.60 176.20,355.60 176.30,355.60 176.60,355.26 177.00,353.92 177.40,351.87 177.80,349.45 178.20,347.00 178.20,347.00 178.60,344.41 179.00,341.36 179.40,337.87 179.80,333.95 179.90,332.90 180.20,328.88 180.60,321.80 181.00,314.44 181.40,308.64 181.70,306.40 181.80,306.07 182.20,305.08 182.60,304.42 183.00,303.84 183.40,303.13 183.50,302.90 183.80,302.13 184.20,300.96 184.60,299.67 185.00,298.30 185.20,297.60 185.40,296.77 185.80,294.71 186.20,292.82 186.60,292.00 186.60,292.00 187.00,293.68 187.40,297.56 187.80,301.93 187.90,302.90 188.20,306.15 188.60,311.34 189.00,316.31 189.40,319.76 189.60,320.50 189.80,320.82 190.20,321.28 190.50,321.40 190.60,321.06 191.00,314.66 191.40,305.52 191.70,301.10 191.80,300.37 192.20,297.80 192.60,296.70 192.60,296.70 193.00,300.98 193.40,308.53 193.50,310.00 193.80,314.13 194.20,319.39 194.60,322.30 194.60,322.30 195.00,323.10 195.40,323.63 195.80,324.00 196.20,324.34 196.60,324.77 196.70,324.90 197.00,325.33 197.40,325.93 197.80,326.57 198.20,327.25 198.40,327.60 198.60,328.01 199.00,329.02 199.40,330.14 199.80,331.14 200.20,331.82 200.50,332.00 200.60,331.97 201.00,331.43 201.40,330.34 201.80,328.96 202.20,327.53 202.60,326.28 202.80,325.80 203.00,325.37 203.40,324.46 203.80,323.56 204.20,322.78 204.60,322.20 205.00,321.91 205.10,321.90 205.40,322.29 205.80,323.73 206.20,325.70 206.40,326.70 206.60,327.81 207.00,330.69 207.40,334.15 207.80,337.83 208.20,341.35 208.60,344.37 208.70,345.00 209.00,346.84 209.40,349.28 209.80,351.49 210.20,353.24 210.60,354.30 210.60,354.30 211.00,354.90 211.40,355.36 211.80,355.59 211.90,355.60 212.20,355.58 212.60,355.47 213.00,355.29 213.40,355.03 213.80,354.70 213.80,354.70 214.20,353.24 214.60,350.35 215.00,347.21 215.20,345.90 215.40,344.71 215.80,342.23 216.20,340.01 216.60,338.50 216.60,338.50 217.00,337.53 217.40,336.74 217.80,336.27 218.00,336.20 218.20,336.24 218.60,336.50 219.00,336.96 219.10,337.10 219.40,338.20 219.80,340.92 220.20,343.62 220.30,344.10 220.60,345.25 221.00,346.51 221.40,347.70 221.70,348.70 221.80,349.09 222.20,351.08 222.60,353.08 223.00,354.24 223.10,354.30 223.40,354.03 223.80,353.06 224.20,351.84 224.60,350.87 224.90,350.60 225.00,350.71 225.40,352.56 225.80,354.30 225.80,354.30 226.20,354.88 226.60,355.32 227.00,355.57 227.20,355.60 227.40,355.60 227.80,355.60 228.20,355.60 228.60,355.60 229.00,355.60 229.40,355.60 229.80,355.60 230.00,355.60 230.20,355.58 230.60,355.42 231.00,355.15 231.40,354.80 231.80,354.40 231.90,354.30 232.20,353.85 232.60,352.90 233.00,351.74 233.40,350.60 233.80,349.69 234.20,349.22 234.30,349.20 234.60,349.60 235.00,350.98 235.40,352.58 235.80,353.60 235.80,353.60 236.20,354.03 236.60,354.40 237.00,354.69 237.40,354.86 237.70,354.90 237.80,354.90 238.20,354.90 238.40,354.90 238.60,354.44 239.00,351.70 239.40,348.50 239.40,348.50 239.80,345.81 240.20,343.06 240.60,340.31 240.90,338.30 241.00,337.65 241.40,335.11 241.80,332.64 242.20,330.16 242.60,327.57 242.90,325.50 243.00,324.80 243.40,322.05 243.80,319.16 244.20,315.81 244.50,312.80 244.60,311.55 245.00,304.93 245.20,302.00 245.40,299.76 245.80,295.98 246.20,292.30 246.20,292.30 246.60,288.30 247.00,284.25 247.40,280.20 247.40,280.20 247.80,276.25 248.20,272.29 248.60,268.10 248.60,268.10 249.00,263.23 249.20,261.00 249.40,258.77 249.70,256.70 249.80,256.91 250.20,260.13 250.30,261.00 250.60,263.14 251.00,266.76 251.10,268.10 251.40,277.06 251.50,280.20 251.80,287.32 252.00,292.30 252.20,298.79 252.30,302.00 252.60,310.19 252.70,312.80 253.00,320.45 253.20,325.50 253.40,330.85 253.70,338.30 253.80,340.36 254.20,347.40 254.30,348.50 254.60,351.08 255.00,353.44 255.20,353.80 255.40,353.77 255.80,353.55 256.20,353.18 256.60,352.74 256.90,352.40 257.00,352.27 257.40,351.53 257.80,350.76 258.20,350.40 258.20,350.40 258.60,351.01 259.00,352.35 259.40,353.69 259.80,354.30 259.80,354.30 260.20,354.29 260.60,354.21 261.00,354.00 261.40,353.60" class="tr"/>
</svg>
</body></html>
